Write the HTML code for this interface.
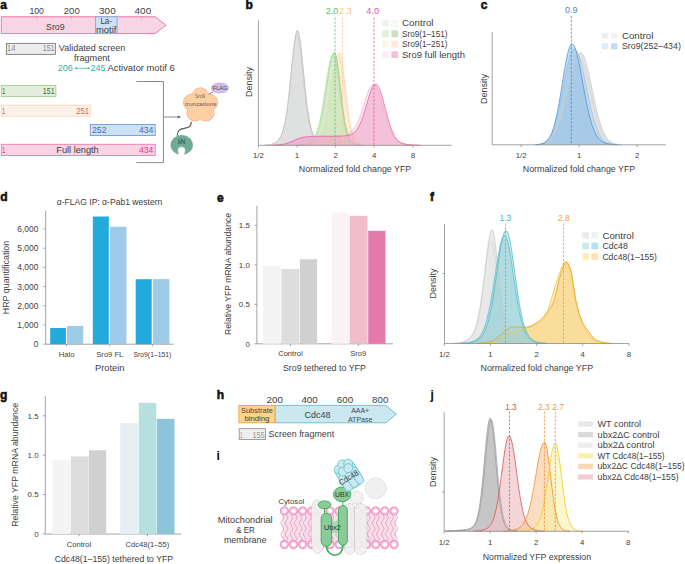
<!DOCTYPE html>
<html><head><meta charset="utf-8"><style>
html,body{margin:0;padding:0;background:#fff;}
body{width:685px;height:564px;overflow:hidden;}
svg{display:block;font-family:"Liberation Sans", sans-serif;}
</style></head><body>
<svg width="685" height="564" viewBox="0 0 685 564">
<rect width="685" height="564" fill="#fff"/>
<text x="0.20" y="8.90" font-size="12.0" fill="#111" font-weight="bold" stroke="#111" stroke-width="0.55">a</text>
<text x="36.70" y="14.20" font-size="9.2" fill="#404040" text-anchor="middle" textLength="14.6" lengthAdjust="spacingAndGlyphs" >100</text>
<text x="71.75" y="14.20" font-size="9.2" fill="#404040" text-anchor="middle" textLength="15.9" lengthAdjust="spacingAndGlyphs" >200</text>
<text x="107.40" y="14.20" font-size="9.2" fill="#404040" text-anchor="middle" textLength="16.6" lengthAdjust="spacingAndGlyphs" >300</text>
<text x="142.90" y="14.20" font-size="9.2" fill="#404040" text-anchor="middle" textLength="16.6" lengthAdjust="spacingAndGlyphs" >400</text>
<path d="M1.3,16.8 L155.2,16.8 L166.0,25.2 L155.2,33.6 L1.3,33.6 Z" fill="#f8d5e5" stroke="#ea6aa2" stroke-width="0.9" />
<rect x="95.40" y="16.80" width="21.70" height="16.80" fill="#cce1f6" stroke="#78ace3" stroke-width="0.9" />
<line x1="36.70" y1="16.80" x2="36.70" y2="18.80" stroke="#e07aa8" stroke-width="0.6" />
<line x1="71.70" y1="16.80" x2="71.70" y2="18.80" stroke="#e07aa8" stroke-width="0.6" />
<line x1="141.90" y1="16.80" x2="141.90" y2="18.80" stroke="#e07aa8" stroke-width="0.6" />
<line x1="107.40" y1="16.80" x2="107.40" y2="18.80" stroke="#7aa5d8" stroke-width="0.6" />
<text x="55.30" y="30.00" font-size="9.0" fill="#404040" text-anchor="middle" textLength="18.5" lengthAdjust="spacingAndGlyphs" >Sro9</text>
<text x="106.20" y="23.80" font-size="8.8" fill="#404040" text-anchor="middle" textLength="11.5" lengthAdjust="spacingAndGlyphs" >La-</text>
<text x="106.20" y="32.60" font-size="8.8" fill="#404040" text-anchor="middle" textLength="20.5" lengthAdjust="spacingAndGlyphs" >motif</text>
<rect x="6.40" y="43.40" width="49.00" height="11.00" fill="#ececec" stroke="#7c7c7c" stroke-width="0.9" />
<text x="7.00" y="51.40" font-size="8.9" fill="#8a8a8a" textLength="8.4" lengthAdjust="spacingAndGlyphs" >14</text>
<text x="54.50" y="51.40" font-size="8.9" fill="#8a8a8a" text-anchor="end" textLength="11.7" lengthAdjust="spacingAndGlyphs" >151</text>
<text x="58.80" y="51.30" font-size="8.9" fill="#404040" textLength="66.5" lengthAdjust="spacingAndGlyphs" >Validated screen</text>
<text x="91.90" y="60.80" font-size="8.9" fill="#404040" text-anchor="middle" textLength="36.0" lengthAdjust="spacingAndGlyphs" >fragment</text>
<text x="57.80" y="71.30" font-size="8.9" fill="#2bb0a8" textLength="15.0" lengthAdjust="spacingAndGlyphs" >206</text>
<line x1="76.00" y1="68.30" x2="89.00" y2="68.30" stroke="#2bb0a8" stroke-width="0.7" />
<circle cx="76.2" cy="68.3" r="1.0" fill="#2bb0a8"/><circle cx="88.6" cy="68.3" r="1.0" fill="#2bb0a8"/>
<text x="90.60" y="71.30" font-size="8.9" fill="#2bb0a8" textLength="15.0" lengthAdjust="spacingAndGlyphs" >245</text>
<text x="107.60" y="71.30" font-size="8.9" fill="#404040" textLength="67.0" lengthAdjust="spacingAndGlyphs" >Activator motif 6</text>
<rect x="1.30" y="85.40" width="54.60" height="11.00" fill="#e3efdc" stroke="#9dcd8b" stroke-width="0.9" />
<text x="2.00" y="94.30" font-size="9.2" fill="#3a6e3c" textLength="3.4" lengthAdjust="spacingAndGlyphs" >1</text>
<text x="54.60" y="94.30" font-size="9.2" fill="#3a6e3c" text-anchor="end" textLength="11.8" lengthAdjust="spacingAndGlyphs" >151</text>
<rect x="1.30" y="105.20" width="89.00" height="11.00" fill="#fdf2ea" stroke="#f9d5bb" stroke-width="0.9" />
<text x="2.00" y="114.10" font-size="9.2" fill="#d4605c" textLength="3.4" lengthAdjust="spacingAndGlyphs" >1</text>
<text x="89.00" y="114.10" font-size="9.2" fill="#d4605c" text-anchor="end" textLength="12.7" lengthAdjust="spacingAndGlyphs" >251</text>
<rect x="90.30" y="124.50" width="64.90" height="11.00" fill="#cde1f4" stroke="#6e9dd6" stroke-width="0.9" />
<text x="92.00" y="133.40" font-size="9.2" fill="#4a6ab8" textLength="14.5" lengthAdjust="spacingAndGlyphs" >252</text>
<text x="153.40" y="133.40" font-size="9.2" fill="#4a6ab8" text-anchor="end" textLength="14.5" lengthAdjust="spacingAndGlyphs" >434</text>
<rect x="1.30" y="144.30" width="153.90" height="11.20" fill="#f8d3e3" stroke="#ee7aac" stroke-width="0.9" />
<text x="2.00" y="153.30" font-size="9.2" fill="#e8388a" textLength="3.4" lengthAdjust="spacingAndGlyphs" >1</text>
<text x="77.50" y="153.30" font-size="8.9" fill="#404040" text-anchor="middle" textLength="42.5" lengthAdjust="spacingAndGlyphs" >Full length</text>
<text x="153.40" y="153.30" font-size="9.2" fill="#e8388a" text-anchor="end" textLength="14.5" lengthAdjust="spacingAndGlyphs" >434</text>
<path d="M136.3,81.5 L163.4,81.5 L163.4,162.6 L136.3,162.6" fill="none" stroke="#6d6d6d" stroke-width="0.8" />
<line x1="163.40" y1="117.00" x2="179.50" y2="117.00" stroke="#6d6d6d" stroke-width="0.8" />
<path d="M181.3,117 L177.6,115.4 L177.6,118.6 Z" fill="#6d6d6d" />
<path d="M208.8,94.2 C209.8,93.2 210.3,93.9 211.0,93.0 C211.7,92.2 212.2,92.8 213.2,91.8" fill="none" stroke="#555" stroke-width="0.9" />
<ellipse cx="219.9" cy="88.0" rx="8.7" ry="5.0" fill="#d3bce6" stroke="#bc9fd6" stroke-width="0.6"/>
<text x="220.00" y="90.20" font-size="6.2" fill="#444" text-anchor="middle" textLength="14.5" lengthAdjust="spacingAndGlyphs" >FLAG</text>
<circle cx="200.50" cy="95.90" r="8.1" fill="#fdd0a4" stroke="#f6a88c" stroke-width="0.9"/>
<circle cx="209.44" cy="102.40" r="8.1" fill="#fdd0a4" stroke="#f6a88c" stroke-width="0.9"/>
<circle cx="206.03" cy="112.90" r="8.1" fill="#fdd0a4" stroke="#f6a88c" stroke-width="0.9"/>
<circle cx="194.97" cy="112.90" r="8.1" fill="#fdd0a4" stroke="#f6a88c" stroke-width="0.9"/>
<circle cx="191.56" cy="102.40" r="8.1" fill="#fdd0a4" stroke="#f6a88c" stroke-width="0.9"/>
<circle cx="200.50" cy="95.90" r="7.65" fill="#fdd0a4"/>
<circle cx="209.44" cy="102.40" r="7.65" fill="#fdd0a4"/>
<circle cx="206.03" cy="112.90" r="7.65" fill="#fdd0a4"/>
<circle cx="194.97" cy="112.90" r="7.65" fill="#fdd0a4"/>
<circle cx="191.56" cy="102.40" r="7.65" fill="#fdd0a4"/>
<circle cx="200.5" cy="105.3" r="11.5" fill="#fdd0a4"/>
<text x="200.00" y="97.90" font-size="6.0" fill="#6b5a52" text-anchor="middle" textLength="10.0" lengthAdjust="spacingAndGlyphs" >Sro9</text>
<text x="200.80" y="105.50" font-size="6.0" fill="#6b5a52" text-anchor="middle" textLength="31.5" lengthAdjust="spacingAndGlyphs" >truncations</text>
<path d="M191.3,121.8 C191.2,124.5 191,126 188.5,127.3 C185,128.8 181.5,128 179.2,130.2 C177.6,131.8 177.2,133.5 177.2,135.8" fill="none" stroke="#555" stroke-width="1.1" />
<ellipse cx="181.7" cy="145.0" rx="10.9" ry="9.7" fill="#6dab95" stroke="#5f9e88" stroke-width="0.5"/>
<circle cx="181.5" cy="150.6" r="4.0" fill="#fff" stroke="#3f6f60" stroke-width="0.4"/>
<rect x="178.6" y="151.5" width="5.8" height="4" fill="#fff"/>
<text x="181.40" y="144.00" font-size="6.6" fill="#2d3d38" text-anchor="middle" textLength="7.5" lengthAdjust="spacingAndGlyphs" >λN</text>
<text x="245.40" y="8.90" font-size="12.0" fill="#111" font-weight="bold" stroke="#111" stroke-width="0.55">b</text>
<path d="M259.0,145.3 L259.0,145.3 L262.0,145.3 L263.0,145.2 L264.0,145.2 L265.0,145.2 L266.0,145.1 L267.0,145.0 L268.0,144.9 L269.0,144.8 L270.0,144.7 L271.0,144.4 L272.0,144.2 L273.0,143.8 L274.0,143.4 L275.0,142.9 L276.0,142.3 L277.0,141.5 L278.0,140.5 L279.0,139.3 L280.0,137.7 L281.0,135.9 L282.0,133.5 L283.0,130.6 L284.0,127.0 L285.0,122.5 L286.0,117.0 L287.0,110.5 L288.0,102.8 L289.0,94.1 L290.0,84.5 L291.0,74.4 L292.0,64.1 L293.0,54.3 L294.0,45.4 L295.0,38.2 L296.0,33.2 L297.0,30.7 L298.0,31.0 L299.0,34.0 L300.0,39.5 L301.0,47.1 L302.0,56.2 L303.0,66.1 L304.0,76.4 L305.0,86.5 L306.0,95.9 L307.0,104.4 L308.0,111.8 L309.0,118.2 L310.0,123.4 L311.0,127.8 L312.0,131.2 L313.0,134.0 L314.0,136.3 L315.0,138.1 L316.0,139.5 L317.0,140.7 L318.0,141.6 L319.0,142.4 L320.0,143.0 L321.0,143.5 L322.0,143.9 L323.0,144.2 L324.0,144.5 L325.0,144.7 L326.0,144.8 L327.0,145.0 L328.0,145.1 L329.0,145.1 L330.0,145.2 L331.0,145.2 L332.0,145.2 L333.0,145.3 L451.0,145.3 L451.0,145.3 Z" fill="#d4d5d6" fill-opacity="0.75"/>
<path d="M265.0,145.2 L266.0,145.1 L267.0,145.0 L268.0,144.9 L269.0,144.8 L270.0,144.7 L271.0,144.4 L272.0,144.2 L273.0,143.8 L274.0,143.4 L275.0,142.9 L276.0,142.3 L277.0,141.5 L278.0,140.5 L279.0,139.3 L280.0,137.7 L281.0,135.9 L282.0,133.5 L283.0,130.6 L284.0,127.0 L285.0,122.5 L286.0,117.0 L287.0,110.5 L288.0,102.8 L289.0,94.1 L290.0,84.5 L291.0,74.4 L292.0,64.1 L293.0,54.3 L294.0,45.4 L295.0,38.2 L296.0,33.2 L297.0,30.7 L298.0,31.0 L299.0,34.0 L300.0,39.5 L301.0,47.1 L302.0,56.2 L303.0,66.1 L304.0,76.4 L305.0,86.5 L306.0,95.9 L307.0,104.4 L308.0,111.8 L309.0,118.2 L310.0,123.4 L311.0,127.8 L312.0,131.2 L313.0,134.0 L314.0,136.3 L315.0,138.1 L316.0,139.5 L317.0,140.7 L318.0,141.6 L319.0,142.4 L320.0,143.0 L321.0,143.5 L322.0,143.9 L323.0,144.2 L324.0,144.5 L325.0,144.7 L326.0,144.8 L327.0,145.0 L328.0,145.1 L329.0,145.1 L330.0,145.2" fill="none" stroke="#a9a9a9" stroke-width="0.6" stroke-opacity="1.0"/>
<path d="M259.0,145.3 L259.0,145.3 L261.0,145.3 L262.0,145.2 L263.0,145.2 L264.0,145.2 L265.0,145.1 L266.0,145.1 L267.0,145.0 L268.0,144.9 L269.0,144.8 L270.0,144.6 L271.0,144.4 L272.0,144.1 L273.0,143.7 L274.0,143.3 L275.0,142.8 L276.0,142.1 L277.0,141.3 L278.0,140.3 L279.0,139.1 L280.0,137.6 L281.0,135.8 L282.0,133.5 L283.0,130.7 L284.0,127.1 L285.0,122.7 L286.0,117.3 L287.0,110.8 L288.0,103.3 L289.0,94.6 L290.0,85.1 L291.0,75.1 L292.0,65.1 L293.0,55.6 L294.0,47.3 L295.0,40.8 L296.0,36.7 L297.0,35.3 L298.0,36.7 L299.0,40.8 L300.0,47.3 L301.0,55.6 L302.0,65.1 L303.0,75.1 L304.0,85.1 L305.0,94.6 L306.0,103.3 L307.0,110.8 L308.0,117.3 L309.0,122.7 L310.0,127.1 L311.0,130.7 L312.0,133.5 L313.0,135.8 L314.0,137.6 L315.0,139.1 L316.0,140.3 L317.0,141.3 L318.0,142.1 L319.0,142.8 L320.0,143.3 L321.0,143.7 L322.0,144.1 L323.0,144.4 L324.0,144.6 L325.0,144.8 L326.0,144.9 L327.0,145.0 L328.0,145.1 L329.0,145.1 L330.0,145.2 L331.0,145.2 L332.0,145.2 L333.0,145.3 L451.0,145.3 L451.0,145.3 Z" fill="#e0e0e0" fill-opacity="0.35"/>
<path d="M264.0,145.2 L265.0,145.1 L266.0,145.1 L267.0,145.0 L268.0,144.9 L269.0,144.8 L270.0,144.6 L271.0,144.4 L272.0,144.1 L273.0,143.7 L274.0,143.3 L275.0,142.8 L276.0,142.1 L277.0,141.3 L278.0,140.3 L279.0,139.1 L280.0,137.6 L281.0,135.8 L282.0,133.5 L283.0,130.7 L284.0,127.1 L285.0,122.7 L286.0,117.3 L287.0,110.8 L288.0,103.3 L289.0,94.6 L290.0,85.1 L291.0,75.1 L292.0,65.1 L293.0,55.6 L294.0,47.3 L295.0,40.8 L296.0,36.7 L297.0,35.3 L298.0,36.7 L299.0,40.8 L300.0,47.3 L301.0,55.6 L302.0,65.1 L303.0,75.1 L304.0,85.1 L305.0,94.6 L306.0,103.3 L307.0,110.8 L308.0,117.3 L309.0,122.7 L310.0,127.1 L311.0,130.7 L312.0,133.5 L313.0,135.8 L314.0,137.6 L315.0,139.1 L316.0,140.3 L317.0,141.3 L318.0,142.1 L319.0,142.8 L320.0,143.3 L321.0,143.7 L322.0,144.1 L323.0,144.4 L324.0,144.6 L325.0,144.8 L326.0,144.9 L327.0,145.0 L328.0,145.1 L329.0,145.1 L330.0,145.2" fill="none" stroke="#c6c6c6" stroke-width="0.6" stroke-opacity="1.0"/>
<path d="M259.0,145.3 L259.0,145.3 L299.0,145.3 L300.0,145.2 L301.0,145.2 L302.0,145.2 L303.0,145.2 L304.0,145.1 L305.0,145.1 L306.0,145.0 L307.0,145.0 L308.0,144.9 L309.0,144.7 L310.0,144.6 L311.0,144.4 L312.0,144.2 L313.0,143.9 L314.0,143.5 L315.0,143.1 L316.0,142.5 L317.0,141.8 L318.0,141.0 L319.0,139.9 L320.0,138.5 L321.0,136.8 L322.0,134.8 L323.0,132.3 L324.0,129.2 L325.0,125.6 L326.0,121.4 L327.0,116.6 L328.0,111.1 L329.0,105.1 L330.0,98.6 L331.0,91.8 L332.0,84.9 L333.0,78.0 L334.0,71.5 L335.0,65.6 L336.0,60.6 L337.0,56.7 L338.0,54.1 L339.0,52.9 L340.0,53.4 L341.0,56.2 L342.0,61.1 L343.0,67.8 L344.0,75.7 L345.0,84.3 L346.0,93.1 L347.0,101.7 L348.0,109.6 L349.0,116.8 L350.0,122.9 L351.0,128.0 L352.0,132.2 L353.0,135.5 L354.0,138.0 L355.0,139.9 L356.0,141.4 L357.0,142.5 L358.0,143.2 L359.0,143.8 L360.0,144.2 L361.0,144.5 L362.0,144.8 L363.0,144.9 L364.0,145.0 L365.0,145.1 L366.0,145.2 L367.0,145.2 L368.0,145.2 L369.0,145.3 L451.0,145.3 L451.0,145.3 Z" fill="#fde2c3" fill-opacity="0.55"/>
<path d="M303.0,145.2 L304.0,145.1 L305.0,145.1 L306.0,145.0 L307.0,145.0 L308.0,144.9 L309.0,144.7 L310.0,144.6 L311.0,144.4 L312.0,144.2 L313.0,143.9 L314.0,143.5 L315.0,143.1 L316.0,142.5 L317.0,141.8 L318.0,141.0 L319.0,139.9 L320.0,138.5 L321.0,136.8 L322.0,134.8 L323.0,132.3 L324.0,129.2 L325.0,125.6 L326.0,121.4 L327.0,116.6 L328.0,111.1 L329.0,105.1 L330.0,98.6 L331.0,91.8 L332.0,84.9 L333.0,78.0 L334.0,71.5 L335.0,65.6 L336.0,60.6 L337.0,56.7 L338.0,54.1 L339.0,52.9 L340.0,53.4 L341.0,56.2 L342.0,61.1 L343.0,67.8 L344.0,75.7 L345.0,84.3 L346.0,93.1 L347.0,101.7 L348.0,109.6 L349.0,116.8 L350.0,122.9 L351.0,128.0 L352.0,132.2 L353.0,135.5 L354.0,138.0 L355.0,139.9 L356.0,141.4 L357.0,142.5 L358.0,143.2 L359.0,143.8 L360.0,144.2 L361.0,144.5 L362.0,144.8 L363.0,144.9 L364.0,145.0 L365.0,145.1 L366.0,145.2" fill="none" stroke="#f8cfa0" stroke-width="0.7" stroke-opacity="1.0"/>
<path d="M259.0,145.3 L259.0,145.3 L298.0,145.3 L299.0,145.2 L300.0,145.2 L301.0,145.2 L302.0,145.2 L303.0,145.1 L304.0,145.1 L305.0,145.0 L306.0,144.9 L307.0,144.8 L308.0,144.7 L309.0,144.6 L310.0,144.4 L311.0,144.1 L312.0,143.8 L313.0,143.5 L314.0,143.0 L315.0,142.4 L316.0,141.7 L317.0,140.8 L318.0,139.7 L319.0,138.3 L320.0,136.5 L321.0,134.4 L322.0,131.8 L323.0,128.7 L324.0,125.0 L325.0,120.7 L326.0,115.8 L327.0,110.4 L328.0,104.4 L329.0,97.9 L330.0,91.3 L331.0,84.5 L332.0,77.9 L333.0,71.7 L334.0,66.2 L335.0,61.6 L336.0,58.2 L337.0,56.0 L338.0,55.3 L339.0,56.4 L340.0,59.7 L341.0,64.9 L342.0,71.6 L343.0,79.4 L344.0,87.8 L345.0,96.2 L346.0,104.4 L347.0,111.9 L348.0,118.6 L349.0,124.3 L350.0,129.1 L351.0,133.0 L352.0,136.1 L353.0,138.5 L354.0,140.3 L355.0,141.7 L356.0,142.7 L357.0,143.4 L358.0,144.0 L359.0,144.3 L360.0,144.6 L361.0,144.8 L362.0,145.0 L363.0,145.1 L364.0,145.1 L365.0,145.2 L366.0,145.2 L367.0,145.2 L368.0,145.3 L451.0,145.3 L451.0,145.3 Z" fill="#fde8cf" fill-opacity="0.4"/>
<path d="M302.0,145.2 L303.0,145.1 L304.0,145.1 L305.0,145.0 L306.0,144.9 L307.0,144.8 L308.0,144.7 L309.0,144.6 L310.0,144.4 L311.0,144.1 L312.0,143.8 L313.0,143.5 L314.0,143.0 L315.0,142.4 L316.0,141.7 L317.0,140.8 L318.0,139.7 L319.0,138.3 L320.0,136.5 L321.0,134.4 L322.0,131.8 L323.0,128.7 L324.0,125.0 L325.0,120.7 L326.0,115.8 L327.0,110.4 L328.0,104.4 L329.0,97.9 L330.0,91.3 L331.0,84.5 L332.0,77.9 L333.0,71.7 L334.0,66.2 L335.0,61.6 L336.0,58.2 L337.0,56.0 L338.0,55.3 L339.0,56.4 L340.0,59.7 L341.0,64.9 L342.0,71.6 L343.0,79.4 L344.0,87.8 L345.0,96.2 L346.0,104.4 L347.0,111.9 L348.0,118.6 L349.0,124.3 L350.0,129.1 L351.0,133.0 L352.0,136.1 L353.0,138.5 L354.0,140.3 L355.0,141.7 L356.0,142.7 L357.0,143.4 L358.0,144.0 L359.0,144.3 L360.0,144.6 L361.0,144.8 L362.0,145.0 L363.0,145.1 L364.0,145.1 L365.0,145.2" fill="none" stroke="#fbdcbc" stroke-width="0.7" stroke-opacity="1.0"/>
<path d="M259.0,145.3 L259.0,145.3 L294.0,145.3 L295.0,145.2 L296.0,145.2 L297.0,145.2 L298.0,145.2 L299.0,145.1 L300.0,145.1 L301.0,145.0 L302.0,144.9 L303.0,144.8 L304.0,144.7 L305.0,144.6 L306.0,144.4 L307.0,144.2 L308.0,143.9 L309.0,143.5 L310.0,143.1 L311.0,142.5 L312.0,141.8 L313.0,141.0 L314.0,139.9 L315.0,138.6 L316.0,137.0 L317.0,135.0 L318.0,132.5 L319.0,129.5 L320.0,126.0 L321.0,121.8 L322.0,117.0 L323.0,111.6 L324.0,105.5 L325.0,99.0 L326.0,92.1 L327.0,85.1 L328.0,78.1 L329.0,71.5 L330.0,65.5 L331.0,60.3 L332.0,56.3 L333.0,53.6 L334.0,52.4 L335.0,52.9 L336.0,55.7 L337.0,60.6 L338.0,67.3 L339.0,75.2 L340.0,83.9 L341.0,92.7 L342.0,101.4 L343.0,109.4 L344.0,116.5 L345.0,122.7 L346.0,127.8 L347.0,132.0 L348.0,135.3 L349.0,137.9 L350.0,139.9 L351.0,141.3 L352.0,142.4 L353.0,143.2 L354.0,143.8 L355.0,144.2 L356.0,144.5 L357.0,144.7 L358.0,144.9 L359.0,145.0 L360.0,145.1 L361.0,145.2 L362.0,145.2 L363.0,145.2 L364.0,145.3 L451.0,145.3 L451.0,145.3 Z" fill="#b9dfa9" fill-opacity="0.5"/>
<path d="M298.0,145.2 L299.0,145.1 L300.0,145.1 L301.0,145.0 L302.0,144.9 L303.0,144.8 L304.0,144.7 L305.0,144.6 L306.0,144.4 L307.0,144.2 L308.0,143.9 L309.0,143.5 L310.0,143.1 L311.0,142.5 L312.0,141.8 L313.0,141.0 L314.0,139.9 L315.0,138.6 L316.0,137.0 L317.0,135.0 L318.0,132.5 L319.0,129.5 L320.0,126.0 L321.0,121.8 L322.0,117.0 L323.0,111.6 L324.0,105.5 L325.0,99.0 L326.0,92.1 L327.0,85.1 L328.0,78.1 L329.0,71.5 L330.0,65.5 L331.0,60.3 L332.0,56.3 L333.0,53.6 L334.0,52.4 L335.0,52.9 L336.0,55.7 L337.0,60.6 L338.0,67.3 L339.0,75.2 L340.0,83.9 L341.0,92.7 L342.0,101.4 L343.0,109.4 L344.0,116.5 L345.0,122.7 L346.0,127.8 L347.0,132.0 L348.0,135.3 L349.0,137.9 L350.0,139.9 L351.0,141.3 L352.0,142.4 L353.0,143.2 L354.0,143.8 L355.0,144.2 L356.0,144.5 L357.0,144.7 L358.0,144.9 L359.0,145.0 L360.0,145.1 L361.0,145.2" fill="none" stroke="#7fca70" stroke-width="0.7" stroke-opacity="1.0"/>
<path d="M259.0,145.3 L259.0,145.3 L293.0,145.3 L294.0,145.2 L295.0,145.2 L296.0,145.2 L297.0,145.2 L298.0,145.1 L299.0,145.1 L300.0,145.0 L301.0,144.9 L302.0,144.8 L303.0,144.7 L304.0,144.5 L305.0,144.3 L306.0,144.1 L307.0,143.8 L308.0,143.4 L309.0,142.9 L310.0,142.3 L311.0,141.5 L312.0,140.5 L313.0,139.3 L314.0,137.9 L315.0,136.1 L316.0,133.9 L317.0,131.2 L318.0,128.0 L319.0,124.3 L320.0,120.1 L321.0,115.2 L322.0,109.8 L323.0,103.9 L324.0,97.6 L325.0,91.1 L326.0,84.5 L327.0,78.1 L328.0,72.1 L329.0,66.7 L330.0,62.1 L331.0,58.6 L332.0,56.3 L333.0,55.3 L334.0,56.0 L335.0,58.7 L336.0,63.2 L337.0,69.3 L338.0,76.6 L339.0,84.6 L340.0,92.8 L341.0,100.9 L342.0,108.5 L343.0,115.4 L344.0,121.5 L345.0,126.7 L346.0,131.0 L347.0,134.4 L348.0,137.2 L349.0,139.3 L350.0,140.9 L351.0,142.1 L352.0,143.0 L353.0,143.7 L354.0,144.1 L355.0,144.5 L356.0,144.7 L357.0,144.9 L358.0,145.0 L359.0,145.1 L360.0,145.2 L361.0,145.2 L362.0,145.2 L363.0,145.3 L451.0,145.3 L451.0,145.3 Z" fill="#cde8c2" fill-opacity="0.4"/>
<path d="M297.0,145.2 L298.0,145.1 L299.0,145.1 L300.0,145.0 L301.0,144.9 L302.0,144.8 L303.0,144.7 L304.0,144.5 L305.0,144.3 L306.0,144.1 L307.0,143.8 L308.0,143.4 L309.0,142.9 L310.0,142.3 L311.0,141.5 L312.0,140.5 L313.0,139.3 L314.0,137.9 L315.0,136.1 L316.0,133.9 L317.0,131.2 L318.0,128.0 L319.0,124.3 L320.0,120.1 L321.0,115.2 L322.0,109.8 L323.0,103.9 L324.0,97.6 L325.0,91.1 L326.0,84.5 L327.0,78.1 L328.0,72.1 L329.0,66.7 L330.0,62.1 L331.0,58.6 L332.0,56.3 L333.0,55.3 L334.0,56.0 L335.0,58.7 L336.0,63.2 L337.0,69.3 L338.0,76.6 L339.0,84.6 L340.0,92.8 L341.0,100.9 L342.0,108.5 L343.0,115.4 L344.0,121.5 L345.0,126.7 L346.0,131.0 L347.0,134.4 L348.0,137.2 L349.0,139.3 L350.0,140.9 L351.0,142.1 L352.0,143.0 L353.0,143.7 L354.0,144.1 L355.0,144.5 L356.0,144.7 L357.0,144.9 L358.0,145.0 L359.0,145.1 L360.0,145.2" fill="none" stroke="#a2d995" stroke-width="0.7" stroke-opacity="1.0"/>
<path d="M259.0,145.3 L259.0,145.3 L266.0,145.3 L267.0,145.2 L268.0,145.2 L269.0,145.2 L270.0,145.2 L271.0,145.2 L272.0,145.2 L273.0,145.1 L274.0,145.1 L275.0,145.0 L276.0,145.0 L277.0,144.9 L278.0,144.8 L279.0,144.7 L280.0,144.6 L281.0,144.5 L282.0,144.3 L283.0,144.1 L284.0,143.9 L285.0,143.6 L286.0,143.3 L287.0,143.0 L288.0,142.6 L289.0,142.2 L290.0,141.8 L291.0,141.4 L292.0,140.9 L293.0,140.5 L294.0,140.0 L295.0,139.6 L296.0,139.2 L297.0,138.8 L298.0,138.4 L299.0,138.1 L300.0,137.8 L301.0,137.5 L302.0,137.3 L303.0,137.1 L304.0,136.9 L305.0,136.8 L306.0,136.7 L307.0,136.6 L308.0,136.5 L309.0,136.4 L310.0,136.4 L311.0,136.3 L312.0,136.3 L313.0,136.2 L314.0,136.2 L315.0,136.2 L316.0,136.2 L317.0,136.2 L318.0,136.2 L319.0,136.1 L320.0,136.1 L321.0,136.1 L322.0,136.1 L323.0,136.1 L324.0,136.1 L325.0,136.1 L326.0,136.1 L327.0,136.1 L328.0,136.1 L329.0,136.1 L330.0,136.1 L331.0,136.1 L332.0,136.0 L333.0,136.0 L334.0,136.0 L335.0,136.0 L336.0,136.0 L337.0,135.9 L338.0,135.9 L339.0,135.9 L340.0,135.8 L341.0,135.7 L342.0,135.6 L343.0,135.5 L344.0,135.3 L345.0,135.1 L346.0,134.9 L347.0,134.5 L348.0,134.1 L349.0,133.6 L350.0,133.0 L351.0,132.2 L352.0,131.3 L353.0,130.2 L354.0,128.9 L355.0,127.4 L356.0,125.7 L357.0,123.7 L358.0,121.5 L359.0,119.0 L360.0,116.3 L361.0,113.4 L362.0,110.3 L363.0,107.2 L364.0,103.9 L365.0,100.7 L366.0,97.6 L367.0,94.6 L368.0,91.9 L369.0,89.5 L370.0,87.5 L371.0,86.0 L372.0,85.0 L373.0,84.5 L374.0,84.6 L375.0,85.3 L376.0,86.6 L377.0,88.5 L378.0,90.8 L379.0,93.5 L380.0,96.6 L381.0,100.0 L382.0,103.6 L383.0,107.2 L384.0,110.9 L385.0,114.5 L386.0,118.0 L387.0,121.3 L388.0,124.4 L389.0,127.3 L390.0,129.9 L391.0,132.2 L392.0,134.2 L393.0,136.0 L394.0,137.6 L395.0,138.9 L396.0,140.0 L397.0,140.9 L398.0,141.7 L399.0,142.3 L400.0,142.8 L401.0,143.2 L402.0,143.6 L403.0,143.9 L404.0,144.1 L405.0,144.3 L406.0,144.4 L407.0,144.6 L408.0,144.7 L409.0,144.8 L410.0,144.8 L411.0,144.9 L412.0,145.0 L413.0,145.0 L414.0,145.1 L415.0,145.1 L416.0,145.1 L417.0,145.1 L418.0,145.2 L419.0,145.2 L420.0,145.2 L421.0,145.2 L422.0,145.2 L423.0,145.2 L424.0,145.3 L451.0,145.3 L451.0,145.3 Z" fill="#f6c2d9" fill-opacity="0.45"/>
<path d="M272.0,145.2 L273.0,145.1 L274.0,145.1 L275.0,145.0 L276.0,145.0 L277.0,144.9 L278.0,144.8 L279.0,144.7 L280.0,144.6 L281.0,144.5 L282.0,144.3 L283.0,144.1 L284.0,143.9 L285.0,143.6 L286.0,143.3 L287.0,143.0 L288.0,142.6 L289.0,142.2 L290.0,141.8 L291.0,141.4 L292.0,140.9 L293.0,140.5 L294.0,140.0 L295.0,139.6 L296.0,139.2 L297.0,138.8 L298.0,138.4 L299.0,138.1 L300.0,137.8 L301.0,137.5 L302.0,137.3 L303.0,137.1 L304.0,136.9 L305.0,136.8 L306.0,136.7 L307.0,136.6 L308.0,136.5 L309.0,136.4 L310.0,136.4 L311.0,136.3 L312.0,136.3 L313.0,136.2 L314.0,136.2 L315.0,136.2 L316.0,136.2 L317.0,136.2 L318.0,136.2 L319.0,136.1 L320.0,136.1 L321.0,136.1 L322.0,136.1 L323.0,136.1 L324.0,136.1 L325.0,136.1 L326.0,136.1 L327.0,136.1 L328.0,136.1 L329.0,136.1 L330.0,136.1 L331.0,136.1 L332.0,136.0 L333.0,136.0 L334.0,136.0 L335.0,136.0 L336.0,136.0 L337.0,135.9 L338.0,135.9 L339.0,135.9 L340.0,135.8 L341.0,135.7 L342.0,135.6 L343.0,135.5 L344.0,135.3 L345.0,135.1 L346.0,134.9 L347.0,134.5 L348.0,134.1 L349.0,133.6 L350.0,133.0 L351.0,132.2 L352.0,131.3 L353.0,130.2 L354.0,128.9 L355.0,127.4 L356.0,125.7 L357.0,123.7 L358.0,121.5 L359.0,119.0 L360.0,116.3 L361.0,113.4 L362.0,110.3 L363.0,107.2 L364.0,103.9 L365.0,100.7 L366.0,97.6 L367.0,94.6 L368.0,91.9 L369.0,89.5 L370.0,87.5 L371.0,86.0 L372.0,85.0 L373.0,84.5 L374.0,84.6 L375.0,85.3 L376.0,86.6 L377.0,88.5 L378.0,90.8 L379.0,93.5 L380.0,96.6 L381.0,100.0 L382.0,103.6 L383.0,107.2 L384.0,110.9 L385.0,114.5 L386.0,118.0 L387.0,121.3 L388.0,124.4 L389.0,127.3 L390.0,129.9 L391.0,132.2 L392.0,134.2 L393.0,136.0 L394.0,137.6 L395.0,138.9 L396.0,140.0 L397.0,140.9 L398.0,141.7 L399.0,142.3 L400.0,142.8 L401.0,143.2 L402.0,143.6 L403.0,143.9 L404.0,144.1 L405.0,144.3 L406.0,144.4 L407.0,144.6 L408.0,144.7 L409.0,144.8 L410.0,144.8 L411.0,144.9 L412.0,145.0 L413.0,145.0 L414.0,145.1 L415.0,145.1 L416.0,145.1 L417.0,145.1 L418.0,145.2" fill="none" stroke="#f6b3d1" stroke-width="0.7" stroke-opacity="1.0"/>
<path d="M259.0,145.3 L259.0,145.3 L267.0,145.3 L268.0,145.2 L269.0,145.2 L270.0,145.2 L271.0,145.2 L272.0,145.2 L273.0,145.2 L274.0,145.1 L275.0,145.1 L276.0,145.0 L277.0,145.0 L278.0,144.9 L279.0,144.8 L280.0,144.7 L281.0,144.6 L282.0,144.5 L283.0,144.3 L284.0,144.1 L285.0,143.9 L286.0,143.7 L287.0,143.4 L288.0,143.1 L289.0,142.7 L290.0,142.3 L291.0,141.9 L292.0,141.5 L293.0,141.0 L294.0,140.6 L295.0,140.1 L296.0,139.7 L297.0,139.3 L298.0,138.9 L299.0,138.5 L300.0,138.2 L301.0,137.9 L302.0,137.7 L303.0,137.5 L304.0,137.3 L305.0,137.1 L306.0,137.0 L307.0,136.9 L308.0,136.8 L309.0,136.7 L310.0,136.6 L311.0,136.6 L312.0,136.5 L313.0,136.5 L314.0,136.4 L315.0,136.4 L316.0,136.4 L317.0,136.4 L318.0,136.4 L319.0,136.4 L320.0,136.3 L321.0,136.3 L322.0,136.3 L323.0,136.3 L324.0,136.3 L325.0,136.3 L326.0,136.3 L327.0,136.3 L328.0,136.3 L329.0,136.3 L330.0,136.3 L331.0,136.3 L332.0,136.3 L333.0,136.3 L334.0,136.3 L335.0,136.2 L336.0,136.2 L337.0,136.2 L338.0,136.2 L339.0,136.2 L340.0,136.1 L341.0,136.1 L342.0,136.1 L343.0,136.0 L344.0,135.9 L345.0,135.9 L346.0,135.7 L347.0,135.6 L348.0,135.4 L349.0,135.2 L350.0,134.9 L351.0,134.6 L352.0,134.1 L353.0,133.5 L354.0,132.8 L355.0,132.0 L356.0,130.9 L357.0,129.6 L358.0,128.1 L359.0,126.4 L360.0,124.3 L361.0,122.0 L362.0,119.4 L363.0,116.6 L364.0,113.5 L365.0,110.2 L366.0,106.8 L367.0,103.3 L368.0,99.9 L369.0,96.6 L370.0,93.5 L371.0,90.6 L372.0,88.2 L373.0,86.3 L374.0,84.9 L375.0,84.2 L376.0,84.1 L377.0,84.6 L378.0,85.8 L379.0,87.6 L380.0,90.0 L381.0,92.8 L382.0,96.1 L383.0,99.6 L384.0,103.4 L385.0,107.3 L386.0,111.1 L387.0,114.9 L388.0,118.6 L389.0,122.0 L390.0,125.2 L391.0,128.1 L392.0,130.7 L393.0,133.0 L394.0,135.1 L395.0,136.8 L396.0,138.3 L397.0,139.5 L398.0,140.5 L399.0,141.4 L400.0,142.1 L401.0,142.6 L402.0,143.1 L403.0,143.5 L404.0,143.8 L405.0,144.0 L406.0,144.2 L407.0,144.4 L408.0,144.5 L409.0,144.6 L410.0,144.7 L411.0,144.8 L412.0,144.9 L413.0,144.9 L414.0,145.0 L415.0,145.0 L416.0,145.1 L417.0,145.1 L418.0,145.1 L419.0,145.1 L420.0,145.2 L421.0,145.2 L422.0,145.2 L423.0,145.2 L424.0,145.2 L425.0,145.2 L426.0,145.3 L451.0,145.3 L451.0,145.3 Z" fill="#ee95bf" fill-opacity="0.45"/>
<path d="M273.0,145.2 L274.0,145.1 L275.0,145.1 L276.0,145.0 L277.0,145.0 L278.0,144.9 L279.0,144.8 L280.0,144.7 L281.0,144.6 L282.0,144.5 L283.0,144.3 L284.0,144.1 L285.0,143.9 L286.0,143.7 L287.0,143.4 L288.0,143.1 L289.0,142.7 L290.0,142.3 L291.0,141.9 L292.0,141.5 L293.0,141.0 L294.0,140.6 L295.0,140.1 L296.0,139.7 L297.0,139.3 L298.0,138.9 L299.0,138.5 L300.0,138.2 L301.0,137.9 L302.0,137.7 L303.0,137.5 L304.0,137.3 L305.0,137.1 L306.0,137.0 L307.0,136.9 L308.0,136.8 L309.0,136.7 L310.0,136.6 L311.0,136.6 L312.0,136.5 L313.0,136.5 L314.0,136.4 L315.0,136.4 L316.0,136.4 L317.0,136.4 L318.0,136.4 L319.0,136.4 L320.0,136.3 L321.0,136.3 L322.0,136.3 L323.0,136.3 L324.0,136.3 L325.0,136.3 L326.0,136.3 L327.0,136.3 L328.0,136.3 L329.0,136.3 L330.0,136.3 L331.0,136.3 L332.0,136.3 L333.0,136.3 L334.0,136.3 L335.0,136.2 L336.0,136.2 L337.0,136.2 L338.0,136.2 L339.0,136.2 L340.0,136.1 L341.0,136.1 L342.0,136.1 L343.0,136.0 L344.0,135.9 L345.0,135.9 L346.0,135.7 L347.0,135.6 L348.0,135.4 L349.0,135.2 L350.0,134.9 L351.0,134.6 L352.0,134.1 L353.0,133.5 L354.0,132.8 L355.0,132.0 L356.0,130.9 L357.0,129.6 L358.0,128.1 L359.0,126.4 L360.0,124.3 L361.0,122.0 L362.0,119.4 L363.0,116.6 L364.0,113.5 L365.0,110.2 L366.0,106.8 L367.0,103.3 L368.0,99.9 L369.0,96.6 L370.0,93.5 L371.0,90.6 L372.0,88.2 L373.0,86.3 L374.0,84.9 L375.0,84.2 L376.0,84.1 L377.0,84.6 L378.0,85.8 L379.0,87.6 L380.0,90.0 L381.0,92.8 L382.0,96.1 L383.0,99.6 L384.0,103.4 L385.0,107.3 L386.0,111.1 L387.0,114.9 L388.0,118.6 L389.0,122.0 L390.0,125.2 L391.0,128.1 L392.0,130.7 L393.0,133.0 L394.0,135.1 L395.0,136.8 L396.0,138.3 L397.0,139.5 L398.0,140.5 L399.0,141.4 L400.0,142.1 L401.0,142.6 L402.0,143.1 L403.0,143.5 L404.0,143.8 L405.0,144.0 L406.0,144.2 L407.0,144.4 L408.0,144.5 L409.0,144.6 L410.0,144.7 L411.0,144.8 L412.0,144.9 L413.0,144.9 L414.0,145.0 L415.0,145.0 L416.0,145.1 L417.0,145.1 L418.0,145.1 L419.0,145.1 L420.0,145.2" fill="none" stroke="#e45c9c" stroke-width="0.7" stroke-opacity="1.0"/>
<line x1="258.40" y1="20.00" x2="258.40" y2="145.30" stroke="#8c8c8c" stroke-width="0.8" />
<line x1="258.40" y1="145.30" x2="451.70" y2="145.30" stroke="#8c8c8c" stroke-width="0.8" />
<line x1="258.40" y1="145.30" x2="258.40" y2="147.50" stroke="#8c8c8c" stroke-width="0.8" />
<text x="258.40" y="158.20" font-size="7.8" fill="#404040" text-anchor="middle" >1/2</text>
<line x1="297.00" y1="145.30" x2="297.00" y2="147.50" stroke="#8c8c8c" stroke-width="0.8" />
<text x="297.00" y="158.20" font-size="7.8" fill="#404040" text-anchor="middle" >1</text>
<line x1="335.60" y1="145.30" x2="335.60" y2="147.50" stroke="#8c8c8c" stroke-width="0.8" />
<text x="335.60" y="158.20" font-size="7.8" fill="#404040" text-anchor="middle" >2</text>
<line x1="374.20" y1="145.30" x2="374.20" y2="147.50" stroke="#8c8c8c" stroke-width="0.8" />
<text x="374.20" y="158.20" font-size="7.8" fill="#404040" text-anchor="middle" >4</text>
<line x1="412.80" y1="145.30" x2="412.80" y2="147.50" stroke="#8c8c8c" stroke-width="0.8" />
<text x="412.80" y="158.20" font-size="7.8" fill="#404040" text-anchor="middle" >8</text>
<text x="355.00" y="172.20" font-size="8.9" fill="#404040" text-anchor="middle" textLength="112.5" lengthAdjust="spacingAndGlyphs" >Normalized fold change YFP</text>
<text x="252.30" y="82.00" font-size="8.9" fill="#404040" text-anchor="middle" textLength="30" lengthAdjust="spacingAndGlyphs" transform="rotate(-90 252.30 82.00)" >Density</text>
<line x1="335.00" y1="17.50" x2="335.00" y2="145.30" stroke="#5fc46a" stroke-width="0.8" stroke-dasharray="2.4,1.5"/>
<line x1="342.60" y1="17.50" x2="342.60" y2="145.30" stroke="#f6c894" stroke-width="0.8" stroke-dasharray="2.4,1.5"/>
<line x1="373.90" y1="17.50" x2="373.90" y2="145.30" stroke="#e6609f" stroke-width="0.8" stroke-dasharray="2.4,1.5"/>
<text x="331.90" y="14.30" font-size="8.9" fill="#56bf63" text-anchor="middle" textLength="12.5" lengthAdjust="spacingAndGlyphs" >2.0</text>
<text x="345.50" y="14.30" font-size="8.9" fill="#f6c88a" text-anchor="middle" textLength="12.5" lengthAdjust="spacingAndGlyphs" >2.3</text>
<text x="372.80" y="14.30" font-size="8.9" fill="#e8559a" text-anchor="middle" textLength="13.0" lengthAdjust="spacingAndGlyphs" >4.0</text>
<rect x="382.10" y="19.90" width="6.70" height="6.80" fill="#f2f2f2" />
<rect x="391.40" y="19.90" width="6.70" height="6.80" fill="#f6f8f6" />
<text x="402.00" y="26.30" font-size="8.9" fill="#404040" textLength="31.5" lengthAdjust="spacingAndGlyphs" >Control</text>
<rect x="382.10" y="30.35" width="6.70" height="6.80" fill="#e3f0dc" />
<rect x="391.40" y="30.35" width="6.70" height="6.80" fill="#c8e4bd" />
<text x="402.00" y="36.75" font-size="8.9" fill="#404040" textLength="45.5" lengthAdjust="spacingAndGlyphs" >Sro9(1–151)</text>
<rect x="382.10" y="40.80" width="6.70" height="6.80" fill="#fff6ea" />
<rect x="391.40" y="40.80" width="6.70" height="6.80" fill="#feead6" />
<text x="402.00" y="47.20" font-size="8.9" fill="#404040" textLength="45.5" lengthAdjust="spacingAndGlyphs" >Sro9(1–251)</text>
<rect x="382.10" y="51.25" width="6.70" height="6.80" fill="#fdeef3" />
<rect x="391.40" y="51.25" width="6.70" height="6.80" fill="#f4c0d9" />
<text x="402.00" y="57.65" font-size="8.9" fill="#404040" textLength="63.0" lengthAdjust="spacingAndGlyphs" >Sro9 full length</text>
<text x="480.70" y="8.90" font-size="12.0" fill="#111" font-weight="bold" stroke="#111" stroke-width="0.55">c</text>
<path d="M493.0,144.8 L493.0,144.8 L534.0,144.8 L535.0,144.7 L536.0,144.7 L537.0,144.7 L538.0,144.6 L539.0,144.6 L540.0,144.5 L541.0,144.4 L542.0,144.3 L543.0,144.1 L544.0,143.9 L545.0,143.7 L546.0,143.4 L547.0,143.0 L548.0,142.5 L549.0,141.9 L550.0,141.2 L551.0,140.4 L552.0,139.4 L553.0,138.3 L554.0,136.9 L555.0,135.3 L556.0,133.5 L557.0,131.5 L558.0,129.2 L559.0,126.6 L560.0,123.7 L561.0,120.6 L562.0,117.1 L563.0,113.4 L564.0,109.5 L565.0,105.3 L566.0,100.9 L567.0,96.4 L568.0,91.8 L569.0,87.1 L570.0,82.5 L571.0,78.0 L572.0,73.6 L573.0,69.5 L574.0,65.7 L575.0,62.3 L576.0,59.3 L577.0,56.8 L578.0,54.9 L579.0,53.6 L580.0,52.9 L581.0,52.9 L582.0,53.5 L583.0,54.8 L584.0,56.7 L585.0,59.3 L586.0,62.4 L587.0,66.0 L588.0,70.0 L589.0,74.3 L590.0,78.9 L591.0,83.7 L592.0,88.5 L593.0,93.4 L594.0,98.1 L595.0,102.8 L596.0,107.3 L597.0,111.5 L598.0,115.5 L599.0,119.2 L600.0,122.6 L601.0,125.7 L602.0,128.5 L603.0,131.0 L604.0,133.2 L605.0,135.1 L606.0,136.8 L607.0,138.2 L608.0,139.4 L609.0,140.4 L610.0,141.3 L611.0,142.0 L612.0,142.6 L613.0,143.1 L614.0,143.4 L615.0,143.8 L616.0,144.0 L617.0,144.2 L618.0,144.3 L619.0,144.5 L620.0,144.5 L621.0,144.6 L622.0,144.7 L623.0,144.7 L624.0,144.7 L625.0,144.7 L626.0,144.8 L665.0,144.8 L665.9,144.8 Z" fill="#d9d9da" fill-opacity="0.75"/>
<path d="M493.0,144.8 L493.0,144.8 L532.0,144.8 L533.0,144.7 L534.0,144.7 L535.0,144.7 L536.0,144.7 L537.0,144.6 L538.0,144.5 L539.0,144.5 L540.0,144.4 L541.0,144.2 L542.0,144.0 L543.0,143.8 L544.0,143.6 L545.0,143.2 L546.0,142.8 L547.0,142.3 L548.0,141.7 L549.0,141.0 L550.0,140.1 L551.0,139.1 L552.0,137.9 L553.0,136.5 L554.0,134.9 L555.0,133.0 L556.0,130.9 L557.0,128.6 L558.0,126.0 L559.0,123.1 L560.0,120.0 L561.0,116.6 L562.0,112.9 L563.0,109.0 L564.0,105.0 L565.0,100.7 L566.0,96.4 L567.0,92.0 L568.0,87.6 L569.0,83.3 L570.0,79.1 L571.0,75.1 L572.0,71.4 L573.0,68.0 L574.0,65.0 L575.0,62.5 L576.0,60.5 L577.0,59.0 L578.0,58.1 L579.0,57.8 L580.0,58.1 L581.0,59.1 L582.0,60.7 L583.0,62.9 L584.0,65.6 L585.0,68.9 L586.0,72.5 L587.0,76.5 L588.0,80.7 L589.0,85.2 L590.0,89.7 L591.0,94.3 L592.0,98.9 L593.0,103.3 L594.0,107.6 L595.0,111.7 L596.0,115.6 L597.0,119.2 L598.0,122.6 L599.0,125.6 L600.0,128.4 L601.0,130.8 L602.0,133.0 L603.0,134.9 L604.0,136.6 L605.0,138.0 L606.0,139.3 L607.0,140.3 L608.0,141.2 L609.0,141.9 L610.0,142.5 L611.0,143.0 L612.0,143.4 L613.0,143.7 L614.0,144.0 L615.0,144.2 L616.0,144.3 L617.0,144.4 L618.0,144.5 L619.0,144.6 L620.0,144.6 L621.0,144.7 L622.0,144.7 L623.0,144.7 L624.0,144.8 L665.0,144.8 L665.9,144.8 Z" fill="#e4e4e4" fill-opacity="0.4"/>
<path d="M493.0,144.8 L493.0,144.8 L531.0,144.8 L532.0,144.7 L533.0,144.7 L534.0,144.7 L535.0,144.6 L536.0,144.6 L537.0,144.5 L538.0,144.4 L539.0,144.2 L540.0,144.1 L541.0,143.8 L542.0,143.5 L543.0,143.1 L544.0,142.6 L545.0,142.0 L546.0,141.3 L547.0,140.4 L548.0,139.3 L549.0,138.0 L550.0,136.5 L551.0,134.6 L552.0,132.5 L553.0,130.1 L554.0,127.3 L555.0,124.2 L556.0,120.8 L557.0,117.0 L558.0,112.8 L559.0,108.4 L560.0,103.6 L561.0,98.7 L562.0,93.5 L563.0,88.3 L564.0,83.0 L565.0,77.8 L566.0,72.7 L567.0,67.9 L568.0,63.5 L569.0,59.5 L570.0,56.0 L571.0,53.2 L572.0,51.1 L573.0,49.7 L574.0,49.0 L575.0,49.2 L576.0,50.0 L577.0,51.4 L578.0,53.4 L579.0,56.1 L580.0,59.2 L581.0,62.8 L582.0,66.8 L583.0,71.1 L584.0,75.7 L585.0,80.4 L586.0,85.2 L587.0,90.1 L588.0,94.9 L589.0,99.6 L590.0,104.1 L591.0,108.4 L592.0,112.5 L593.0,116.4 L594.0,119.9 L595.0,123.2 L596.0,126.1 L597.0,128.8 L598.0,131.2 L599.0,133.3 L600.0,135.1 L601.0,136.7 L602.0,138.1 L603.0,139.3 L604.0,140.3 L605.0,141.2 L606.0,141.9 L607.0,142.5 L608.0,142.9 L609.0,143.3 L610.0,143.7 L611.0,143.9 L612.0,144.1 L613.0,144.3 L614.0,144.4 L615.0,144.5 L616.0,144.6 L617.0,144.6 L618.0,144.7 L619.0,144.7 L620.0,144.7 L621.0,144.8 L665.0,144.8 L665.9,144.8 Z" fill="#aed1ee" fill-opacity="0.6"/>
<path d="M493.0,144.8 L493.0,144.8 L534.0,144.8 L535.0,144.7 L536.0,144.7 L537.0,144.6 L538.0,144.6 L539.0,144.5 L540.0,144.3 L541.0,144.2 L542.0,143.9 L543.0,143.6 L544.0,143.2 L545.0,142.6 L546.0,141.9 L547.0,141.1 L548.0,139.9 L549.0,138.6 L550.0,136.9 L551.0,134.9 L552.0,132.5 L553.0,129.7 L554.0,126.4 L555.0,122.7 L556.0,118.5 L557.0,113.9 L558.0,108.8 L559.0,103.3 L560.0,97.4 L561.0,91.4 L562.0,85.1 L563.0,78.9 L564.0,72.7 L565.0,66.9 L566.0,61.4 L567.0,56.5 L568.0,52.2 L569.0,48.8 L570.0,46.3 L571.0,44.7 L572.0,44.2 L573.0,44.5 L574.0,45.8 L575.0,47.8 L576.0,50.7 L577.0,54.2 L578.0,58.4 L579.0,63.0 L580.0,68.0 L581.0,73.3 L582.0,78.7 L583.0,84.3 L584.0,89.7 L585.0,95.1 L586.0,100.3 L587.0,105.2 L588.0,109.8 L589.0,114.1 L590.0,118.1 L591.0,121.7 L592.0,124.9 L593.0,127.8 L594.0,130.3 L595.0,132.5 L596.0,134.5 L597.0,136.2 L598.0,137.6 L599.0,138.8 L600.0,139.8 L601.0,140.7 L602.0,141.4 L603.0,142.1 L604.0,142.6 L605.0,143.0 L606.0,143.3 L607.0,143.6 L608.0,143.8 L609.0,144.0 L610.0,144.2 L611.0,144.3 L612.0,144.4 L613.0,144.5 L614.0,144.5 L615.0,144.6 L616.0,144.6 L617.0,144.7 L618.0,144.7 L619.0,144.7 L620.0,144.7 L621.0,144.8 L665.0,144.8 L665.9,144.8 Z" fill="#8fc0e6" fill-opacity="0.55"/>
<path d="M537.0,144.7 L538.0,144.6 L539.0,144.6 L540.0,144.5 L541.0,144.4 L542.0,144.3 L543.0,144.1 L544.0,143.9 L545.0,143.7 L546.0,143.4 L547.0,143.0 L548.0,142.5 L549.0,141.9 L550.0,141.2 L551.0,140.4 L552.0,139.4 L553.0,138.3 L554.0,136.9 L555.0,135.3 L556.0,133.5 L557.0,131.5 L558.0,129.2 L559.0,126.6 L560.0,123.7 L561.0,120.6 L562.0,117.1 L563.0,113.4 L564.0,109.5 L565.0,105.3 L566.0,100.9 L567.0,96.4 L568.0,91.8 L569.0,87.1 L570.0,82.5 L571.0,78.0 L572.0,73.6 L573.0,69.5 L574.0,65.7 L575.0,62.3 L576.0,59.3 L577.0,56.8 L578.0,54.9 L579.0,53.6 L580.0,52.9 L581.0,52.9 L582.0,53.5 L583.0,54.8 L584.0,56.7 L585.0,59.3 L586.0,62.4 L587.0,66.0 L588.0,70.0 L589.0,74.3 L590.0,78.9 L591.0,83.7 L592.0,88.5 L593.0,93.4 L594.0,98.1 L595.0,102.8 L596.0,107.3 L597.0,111.5 L598.0,115.5 L599.0,119.2 L600.0,122.6 L601.0,125.7 L602.0,128.5 L603.0,131.0 L604.0,133.2 L605.0,135.1 L606.0,136.8 L607.0,138.2 L608.0,139.4 L609.0,140.4 L610.0,141.3 L611.0,142.0 L612.0,142.6 L613.0,143.1 L614.0,143.4 L615.0,143.8 L616.0,144.0 L617.0,144.2 L618.0,144.3 L619.0,144.5 L620.0,144.5 L621.0,144.6 L622.0,144.7" fill="none" stroke="#c0c0c0" stroke-width="0.6" stroke-opacity="1.0"/>
<path d="M536.0,144.7 L537.0,144.6 L538.0,144.5 L539.0,144.5 L540.0,144.4 L541.0,144.2 L542.0,144.0 L543.0,143.8 L544.0,143.6 L545.0,143.2 L546.0,142.8 L547.0,142.3 L548.0,141.7 L549.0,141.0 L550.0,140.1 L551.0,139.1 L552.0,137.9 L553.0,136.5 L554.0,134.9 L555.0,133.0 L556.0,130.9 L557.0,128.6 L558.0,126.0 L559.0,123.1 L560.0,120.0 L561.0,116.6 L562.0,112.9 L563.0,109.0 L564.0,105.0 L565.0,100.7 L566.0,96.4 L567.0,92.0 L568.0,87.6 L569.0,83.3 L570.0,79.1 L571.0,75.1 L572.0,71.4 L573.0,68.0 L574.0,65.0 L575.0,62.5 L576.0,60.5 L577.0,59.0 L578.0,58.1 L579.0,57.8 L580.0,58.1 L581.0,59.1 L582.0,60.7 L583.0,62.9 L584.0,65.6 L585.0,68.9 L586.0,72.5 L587.0,76.5 L588.0,80.7 L589.0,85.2 L590.0,89.7 L591.0,94.3 L592.0,98.9 L593.0,103.3 L594.0,107.6 L595.0,111.7 L596.0,115.6 L597.0,119.2 L598.0,122.6 L599.0,125.6 L600.0,128.4 L601.0,130.8 L602.0,133.0 L603.0,134.9 L604.0,136.6 L605.0,138.0 L606.0,139.3 L607.0,140.3 L608.0,141.2 L609.0,141.9 L610.0,142.5 L611.0,143.0 L612.0,143.4 L613.0,143.7 L614.0,144.0 L615.0,144.2 L616.0,144.3 L617.0,144.4 L618.0,144.5 L619.0,144.6 L620.0,144.6 L621.0,144.7" fill="none" stroke="#cfcfcf" stroke-width="0.6" stroke-opacity="1.0"/>
<path d="M534.0,144.7 L535.0,144.6 L536.0,144.6 L537.0,144.5 L538.0,144.4 L539.0,144.2 L540.0,144.1 L541.0,143.8 L542.0,143.5 L543.0,143.1 L544.0,142.6 L545.0,142.0 L546.0,141.3 L547.0,140.4 L548.0,139.3 L549.0,138.0 L550.0,136.5 L551.0,134.6 L552.0,132.5 L553.0,130.1 L554.0,127.3 L555.0,124.2 L556.0,120.8 L557.0,117.0 L558.0,112.8 L559.0,108.4 L560.0,103.6 L561.0,98.7 L562.0,93.5 L563.0,88.3 L564.0,83.0 L565.0,77.8 L566.0,72.7 L567.0,67.9 L568.0,63.5 L569.0,59.5 L570.0,56.0 L571.0,53.2 L572.0,51.1 L573.0,49.7 L574.0,49.0 L575.0,49.2 L576.0,50.0 L577.0,51.4 L578.0,53.4 L579.0,56.1 L580.0,59.2 L581.0,62.8 L582.0,66.8 L583.0,71.1 L584.0,75.7 L585.0,80.4 L586.0,85.2 L587.0,90.1 L588.0,94.9 L589.0,99.6 L590.0,104.1 L591.0,108.4 L592.0,112.5 L593.0,116.4 L594.0,119.9 L595.0,123.2 L596.0,126.1 L597.0,128.8 L598.0,131.2 L599.0,133.3 L600.0,135.1 L601.0,136.7 L602.0,138.1 L603.0,139.3 L604.0,140.3 L605.0,141.2 L606.0,141.9 L607.0,142.5 L608.0,142.9 L609.0,143.3 L610.0,143.7 L611.0,143.9 L612.0,144.1 L613.0,144.3 L614.0,144.4 L615.0,144.5 L616.0,144.6 L617.0,144.6 L618.0,144.7" fill="none" stroke="#92c1e8" stroke-width="0.7" stroke-opacity="1.0"/>
<path d="M536.0,144.7 L537.0,144.6 L538.0,144.6 L539.0,144.5 L540.0,144.3 L541.0,144.2 L542.0,143.9 L543.0,143.6 L544.0,143.2 L545.0,142.6 L546.0,141.9 L547.0,141.1 L548.0,139.9 L549.0,138.6 L550.0,136.9 L551.0,134.9 L552.0,132.5 L553.0,129.7 L554.0,126.4 L555.0,122.7 L556.0,118.5 L557.0,113.9 L558.0,108.8 L559.0,103.3 L560.0,97.4 L561.0,91.4 L562.0,85.1 L563.0,78.9 L564.0,72.7 L565.0,66.9 L566.0,61.4 L567.0,56.5 L568.0,52.2 L569.0,48.8 L570.0,46.3 L571.0,44.7 L572.0,44.2 L573.0,44.5 L574.0,45.8 L575.0,47.8 L576.0,50.7 L577.0,54.2 L578.0,58.4 L579.0,63.0 L580.0,68.0 L581.0,73.3 L582.0,78.7 L583.0,84.3 L584.0,89.7 L585.0,95.1 L586.0,100.3 L587.0,105.2 L588.0,109.8 L589.0,114.1 L590.0,118.1 L591.0,121.7 L592.0,124.9 L593.0,127.8 L594.0,130.3 L595.0,132.5 L596.0,134.5 L597.0,136.2 L598.0,137.6 L599.0,138.8 L600.0,139.8 L601.0,140.7 L602.0,141.4 L603.0,142.1 L604.0,142.6 L605.0,143.0 L606.0,143.3 L607.0,143.6 L608.0,143.8 L609.0,144.0 L610.0,144.2 L611.0,144.3 L612.0,144.4 L613.0,144.5 L614.0,144.5 L615.0,144.6 L616.0,144.6 L617.0,144.7" fill="none" stroke="#4a8bd0" stroke-width="0.7" stroke-opacity="1.0"/>
<line x1="492.20" y1="31.90" x2="492.20" y2="144.80" stroke="#8c8c8c" stroke-width="0.8" />
<line x1="492.20" y1="144.80" x2="665.90" y2="144.80" stroke="#8c8c8c" stroke-width="0.8" />
<line x1="521.20" y1="144.80" x2="521.20" y2="147.00" stroke="#8c8c8c" stroke-width="0.8" />
<text x="521.20" y="157.50" font-size="7.8" fill="#404040" text-anchor="middle" >1/2</text>
<line x1="579.20" y1="144.80" x2="579.20" y2="147.00" stroke="#8c8c8c" stroke-width="0.8" />
<text x="579.20" y="157.50" font-size="7.8" fill="#404040" text-anchor="middle" >1</text>
<line x1="637.20" y1="144.80" x2="637.20" y2="147.00" stroke="#8c8c8c" stroke-width="0.8" />
<text x="637.20" y="157.50" font-size="7.8" fill="#404040" text-anchor="middle" >2</text>
<line x1="571.30" y1="16.00" x2="571.30" y2="144.80" stroke="#4a86cc" stroke-width="0.8" stroke-dasharray="2.4,1.5"/>
<text x="571.20" y="12.80" font-size="8.9" fill="#4a86cc" text-anchor="middle" textLength="12.5" lengthAdjust="spacingAndGlyphs" >0.9</text>
<text x="579.00" y="172.20" font-size="8.9" fill="#404040" text-anchor="middle" textLength="112.5" lengthAdjust="spacingAndGlyphs" >Normalized fold change YFP</text>
<text x="486.50" y="89.00" font-size="8.9" fill="#404040" text-anchor="middle" textLength="30" lengthAdjust="spacingAndGlyphs" transform="rotate(-90 486.50 89.00)" >Density</text>
<rect x="601.80" y="32.60" width="6.40" height="6.20" fill="#efefef" />
<rect x="611.00" y="32.60" width="6.40" height="6.20" fill="#f2f3f4" />
<text x="621.90" y="38.50" font-size="8.9" fill="#404040" textLength="31.5" lengthAdjust="spacingAndGlyphs" >Control</text>
<rect x="601.80" y="43.20" width="6.40" height="6.20" fill="#dcedf9" />
<rect x="611.00" y="43.20" width="6.40" height="6.20" fill="#c2dcf3" />
<text x="621.90" y="49.10" font-size="8.9" fill="#404040" textLength="59.0" lengthAdjust="spacingAndGlyphs" >Sro9(252–434)</text>
<text x="0.30" y="201.40" font-size="12.0" fill="#111" font-weight="bold" stroke="#111" stroke-width="0.55">d</text>
<text x="109.50" y="204.80" font-size="8.6" fill="#404040" text-anchor="middle" textLength="105.5" lengthAdjust="spacingAndGlyphs" >α-FLAG IP: α-Pab1 western</text>
<line x1="45.70" y1="210.70" x2="45.70" y2="344.20" stroke="#8c8c8c" stroke-width="0.8" />
<line x1="45.70" y1="344.20" x2="173.60" y2="344.20" stroke="#8c8c8c" stroke-width="0.8" />
<line x1="43.30" y1="344.20" x2="45.70" y2="344.20" stroke="#8c8c8c" stroke-width="0.8" />
<text x="38.30" y="347.20" font-size="8.4" fill="#404040" text-anchor="end" >0</text>
<line x1="43.30" y1="325.00" x2="45.70" y2="325.00" stroke="#8c8c8c" stroke-width="0.8" />
<text x="38.30" y="328.00" font-size="8.4" fill="#404040" text-anchor="end" >1,000</text>
<line x1="43.30" y1="305.80" x2="45.70" y2="305.80" stroke="#8c8c8c" stroke-width="0.8" />
<text x="38.30" y="308.80" font-size="8.4" fill="#404040" text-anchor="end" >2,000</text>
<line x1="43.30" y1="286.60" x2="45.70" y2="286.60" stroke="#8c8c8c" stroke-width="0.8" />
<text x="38.30" y="289.60" font-size="8.4" fill="#404040" text-anchor="end" >3,000</text>
<line x1="43.30" y1="267.40" x2="45.70" y2="267.40" stroke="#8c8c8c" stroke-width="0.8" />
<text x="38.30" y="270.40" font-size="8.4" fill="#404040" text-anchor="end" >4,000</text>
<line x1="43.30" y1="248.20" x2="45.70" y2="248.20" stroke="#8c8c8c" stroke-width="0.8" />
<text x="38.30" y="251.20" font-size="8.4" fill="#404040" text-anchor="end" >5,000</text>
<line x1="43.30" y1="229.00" x2="45.70" y2="229.00" stroke="#8c8c8c" stroke-width="0.8" />
<text x="38.30" y="232.00" font-size="8.4" fill="#404040" text-anchor="end" >6,000</text>
<rect x="50.20" y="328.00" width="15.70" height="16.20" fill="#22aadc" />
<rect x="67.00" y="326.00" width="16.30" height="18.20" fill="#9dcbe8" />
<rect x="92.80" y="216.52" width="16.00" height="127.68" fill="#22aadc" />
<rect x="109.80" y="226.79" width="16.70" height="117.41" fill="#9dcbe8" />
<rect x="135.70" y="279.21" width="16.00" height="64.99" fill="#22aadc" />
<rect x="153.00" y="279.11" width="16.40" height="65.09" fill="#9dcbe8" />
<line x1="66.60" y1="344.20" x2="66.60" y2="346.40" stroke="#8c8c8c" stroke-width="0.8" />
<text x="66.60" y="356.50" font-size="7.6" fill="#404040" text-anchor="middle" >Halo</text>
<line x1="109.80" y1="344.20" x2="109.80" y2="346.40" stroke="#8c8c8c" stroke-width="0.8" />
<text x="109.80" y="356.50" font-size="7.6" fill="#404040" text-anchor="middle" >Sro9 FL</text>
<line x1="152.40" y1="344.20" x2="152.40" y2="346.40" stroke="#8c8c8c" stroke-width="0.8" />
<text x="152.40" y="356.50" font-size="7.6" fill="#404040" text-anchor="middle" textLength="37.7" lengthAdjust="spacingAndGlyphs" >Sro9(1–151)</text>
<text x="109.80" y="371.40" font-size="8.9" fill="#404040" text-anchor="middle" textLength="29.5" lengthAdjust="spacingAndGlyphs" >Protein</text>
<text x="9.00" y="277.50" font-size="8.9" fill="#404040" text-anchor="middle" textLength="73.5" lengthAdjust="spacingAndGlyphs" transform="rotate(-90 9.00 277.50)" >HRP quantification</text>
<text x="217.00" y="201.80" font-size="12.0" fill="#111" font-weight="bold" stroke="#111" stroke-width="0.55">e</text>
<line x1="256.90" y1="205.70" x2="256.90" y2="343.80" stroke="#8c8c8c" stroke-width="0.8" />
<line x1="256.90" y1="343.80" x2="393.00" y2="343.80" stroke="#8c8c8c" stroke-width="0.8" />
<line x1="254.50" y1="343.80" x2="256.90" y2="343.80" stroke="#8c8c8c" stroke-width="0.8" />
<text x="249.80" y="346.60" font-size="7.9" fill="#404040" text-anchor="end" >0</text>
<line x1="254.50" y1="304.30" x2="256.90" y2="304.30" stroke="#8c8c8c" stroke-width="0.8" />
<text x="249.80" y="307.10" font-size="7.9" fill="#404040" text-anchor="end" >0.5</text>
<line x1="254.50" y1="264.80" x2="256.90" y2="264.80" stroke="#8c8c8c" stroke-width="0.8" />
<text x="249.80" y="267.60" font-size="7.9" fill="#404040" text-anchor="end" >1.0</text>
<line x1="254.50" y1="225.30" x2="256.90" y2="225.30" stroke="#8c8c8c" stroke-width="0.8" />
<text x="249.80" y="228.10" font-size="7.9" fill="#404040" text-anchor="end" >1.5</text>
<rect x="263.00" y="265.99" width="17.80" height="77.81" fill="#f3f5f4" />
<rect x="281.40" y="268.99" width="17.80" height="74.81" fill="#dcdddc" />
<rect x="299.80" y="259.27" width="17.30" height="84.53" fill="#cfd0cf" />
<rect x="331.30" y="212.66" width="17.70" height="131.14" fill="#faf2f4" />
<rect x="349.70" y="215.82" width="17.80" height="127.98" fill="#f2bccb" />
<rect x="368.20" y="230.83" width="17.30" height="112.97" fill="#e47aac" />
<line x1="290.40" y1="343.80" x2="290.40" y2="346.00" stroke="#8c8c8c" stroke-width="0.8" />
<text x="290.40" y="356.00" font-size="7.6" fill="#404040" text-anchor="middle" >Control</text>
<line x1="358.30" y1="343.80" x2="358.30" y2="346.00" stroke="#8c8c8c" stroke-width="0.8" />
<text x="358.30" y="356.00" font-size="7.6" fill="#404040" text-anchor="middle" >Sro9</text>
<text x="324.40" y="370.70" font-size="8.9" fill="#404040" text-anchor="middle" textLength="83.0" lengthAdjust="spacingAndGlyphs" >Sro9 tethered to YFP</text>
<text x="231.30" y="274.00" font-size="8.9" fill="#404040" text-anchor="middle" textLength="122" lengthAdjust="spacingAndGlyphs" transform="rotate(-90 231.30 274.00)" >Relative YFP mRNA abundance</text>
<text x="430.00" y="201.30" font-size="12.0" fill="#111" font-weight="bold" stroke="#111" stroke-width="0.55">f</text>
<path d="M445.0,343.5 L445.0,343.5 L450.0,343.5 L451.0,343.4 L452.0,343.4 L453.0,343.4 L454.0,343.4 L455.0,343.3 L456.0,343.3 L457.0,343.2 L458.0,343.1 L459.0,343.0 L460.0,342.8 L461.0,342.6 L462.0,342.4 L463.0,342.1 L464.0,341.8 L465.0,341.4 L466.0,340.9 L467.0,340.4 L468.0,339.7 L469.0,338.9 L470.0,338.0 L471.0,336.9 L472.0,335.6 L473.0,334.1 L474.0,332.3 L475.0,330.1 L476.0,327.4 L477.0,324.2 L478.0,320.4 L479.0,315.8 L480.0,310.4 L481.0,304.1 L482.0,297.0 L483.0,289.1 L484.0,280.5 L485.0,271.5 L486.0,262.5 L487.0,253.8 L488.0,245.8 L489.0,239.0 L490.0,233.9 L491.0,230.6 L492.0,229.5 L493.0,230.9 L494.0,234.8 L495.0,241.1 L496.0,249.2 L497.0,258.5 L498.0,268.5 L499.0,278.6 L500.0,288.3 L501.0,297.2 L502.0,305.2 L503.0,312.1 L504.0,317.9 L505.0,322.8 L506.0,326.7 L507.0,329.9 L508.0,332.5 L509.0,334.6 L510.0,336.3 L511.0,337.7 L512.0,338.8 L513.0,339.7 L514.0,340.5 L515.0,341.1 L516.0,341.6 L517.0,342.0 L518.0,342.4 L519.0,342.6 L520.0,342.8 L521.0,343.0 L522.0,343.1 L523.0,343.2 L524.0,343.3 L525.0,343.4 L526.0,343.4 L527.0,343.4 L528.0,343.4 L529.0,343.5 L628.0,343.5 L628.9,343.5 Z" fill="#e0e0e0" fill-opacity="0.7"/>
<path d="M445.0,343.5 L445.0,343.5 L449.0,343.5 L450.0,343.4 L451.0,343.4 L452.0,343.4 L453.0,343.4 L454.0,343.3 L455.0,343.3 L456.0,343.2 L457.0,343.1 L458.0,343.0 L459.0,342.9 L460.0,342.7 L461.0,342.5 L462.0,342.3 L463.0,342.0 L464.0,341.6 L465.0,341.2 L466.0,340.7 L467.0,340.0 L468.0,339.3 L469.0,338.5 L470.0,337.5 L471.0,336.2 L472.0,334.8 L473.0,333.1 L474.0,331.0 L475.0,328.4 L476.0,325.4 L477.0,321.8 L478.0,317.5 L479.0,312.5 L480.0,306.8 L481.0,300.4 L482.0,293.3 L483.0,285.7 L484.0,277.9 L485.0,270.0 L486.0,262.5 L487.0,255.7 L488.0,250.0 L489.0,245.6 L490.0,242.8 L491.0,241.9 L492.0,243.0 L493.0,246.4 L494.0,251.7 L495.0,258.5 L496.0,266.5 L497.0,275.1 L498.0,283.9 L499.0,292.4 L500.0,300.4 L501.0,307.6 L502.0,313.9 L503.0,319.3 L504.0,323.9 L505.0,327.7 L506.0,330.7 L507.0,333.2 L508.0,335.2 L509.0,336.8 L510.0,338.2 L511.0,339.2 L512.0,340.1 L513.0,340.8 L514.0,341.4 L515.0,341.8 L516.0,342.2 L517.0,342.5 L518.0,342.7 L519.0,342.9 L520.0,343.1 L521.0,343.2 L522.0,343.3 L523.0,343.3 L524.0,343.4 L525.0,343.4 L526.0,343.4 L527.0,343.5 L628.0,343.5 L628.9,343.5 Z" fill="#e8e8e8" fill-opacity="0.5"/>
<path d="M445.0,343.5 L445.0,343.5 L473.5,343.5 L474.2,343.4 L475.0,343.4 L475.8,343.4 L476.5,343.4 L477.2,343.3 L478.0,343.3 L478.8,343.3 L479.5,343.2 L480.2,343.2 L481.0,343.2 L481.8,343.1 L482.5,343.1 L483.2,343.0 L484.0,343.0 L484.8,342.9 L485.5,342.9 L486.2,342.8 L487.0,342.7 L487.8,342.6 L488.5,342.5 L489.2,342.4 L490.0,342.2 L490.8,342.1 L491.5,341.9 L492.2,341.7 L493.0,341.5 L493.8,341.3 L494.5,341.1 L495.2,340.9 L496.0,340.7 L496.8,340.4 L497.5,340.0 L498.2,339.6 L499.0,339.2 L499.8,338.8 L500.5,338.3 L501.2,337.9 L502.0,337.5 L502.8,337.1 L503.5,336.8 L504.2,336.4 L505.0,336.0 L505.8,335.7 L506.5,335.3 L507.2,335.0 L508.0,334.6 L508.8,334.3 L509.5,334.0 L510.2,333.6 L511.0,333.3 L511.8,333.0 L512.5,332.7 L513.2,332.4 L514.0,332.2 L514.8,331.9 L515.5,331.7 L516.2,331.4 L517.0,331.2 L517.8,330.9 L518.5,330.7 L519.2,330.5 L520.0,330.2 L520.8,330.0 L521.5,329.7 L522.2,329.5 L523.0,329.2 L523.8,329.0 L524.5,328.7 L525.2,328.4 L526.0,328.1 L526.8,327.8 L527.5,327.5 L528.2,327.2 L529.0,326.9 L529.8,326.6 L530.5,326.3 L531.2,326.0 L532.0,325.7 L532.8,325.3 L533.5,325.0 L534.2,324.6 L535.0,324.2 L535.8,323.8 L536.5,323.4 L537.2,323.0 L538.0,322.5 L538.8,322.0 L539.5,321.6 L540.2,321.1 L541.0,320.6 L541.8,320.0 L542.5,319.4 L543.2,318.7 L544.0,318.0 L544.8,317.1 L545.5,316.2 L546.2,315.1 L547.0,313.5 L547.8,311.3 L548.5,308.8 L549.2,306.2 L550.0,303.7 L550.8,301.3 L551.5,298.8 L552.2,296.3 L553.0,293.7 L553.8,291.0 L554.5,288.4 L555.2,285.9 L556.0,283.4 L556.8,281.0 L557.5,278.9 L558.2,276.8 L559.0,274.7 L559.8,272.5 L560.5,270.3 L561.2,268.2 L562.0,266.2 L562.8,264.5 L563.5,263.1 L564.2,262.1 L565.0,261.5 L565.8,261.6 L566.5,262.1 L567.2,263.0 L568.0,264.3 L568.8,265.7 L569.5,267.4 L570.2,269.2 L571.0,272.1 L571.8,276.1 L572.5,280.9 L573.2,286.0 L574.0,291.3 L574.8,296.2 L575.5,300.4 L576.2,303.7 L577.0,306.6 L577.8,309.2 L578.5,311.7 L579.2,314.1 L580.0,316.3 L580.8,318.3 L581.5,320.3 L582.2,322.1 L583.0,323.9 L583.8,325.7 L584.5,327.3 L585.2,328.9 L586.0,330.4 L586.8,331.7 L587.5,332.8 L588.2,333.8 L589.0,334.7 L589.8,335.6 L590.5,336.4 L591.2,337.1 L592.0,337.8 L592.8,338.5 L593.5,339.1 L594.2,339.6 L595.0,340.0 L595.8,340.4 L596.5,340.7 L597.2,341.0 L598.0,341.2 L598.8,341.5 L599.5,341.7 L600.2,341.9 L601.0,342.1 L601.8,342.3 L602.5,342.5 L603.2,342.6 L604.0,342.8 L604.8,342.9 L605.5,343.0 L606.2,343.0 L607.0,343.1 L607.8,343.2 L608.5,343.2 L609.2,343.3 L610.0,343.3 L610.8,343.4 L611.5,343.4 L612.2,343.4 L613.0,343.5 L628.8,343.5 L628.9,343.5 Z" fill="#fbda86" fill-opacity="0.55"/>
<path d="M445.0,343.5 L445.0,343.5 L472.8,343.5 L473.5,343.4 L474.2,343.4 L475.0,343.4 L475.8,343.3 L476.5,343.3 L477.2,343.2 L478.0,343.2 L478.8,343.1 L479.5,343.1 L480.2,343.0 L481.0,343.0 L481.8,342.9 L482.5,342.9 L483.2,342.8 L484.0,342.7 L484.8,342.6 L485.5,342.5 L486.2,342.4 L487.0,342.2 L487.8,342.1 L488.5,341.9 L489.2,341.7 L490.0,341.6 L490.8,341.4 L491.5,341.1 L492.2,340.9 L493.0,340.6 L493.8,340.2 L494.5,339.8 L495.2,339.3 L496.0,338.7 L496.8,338.1 L497.5,337.5 L498.2,336.9 L499.0,336.3 L499.8,335.7 L500.5,335.1 L501.2,334.5 L502.0,333.8 L502.8,333.1 L503.5,332.4 L504.2,331.7 L505.0,331.0 L505.8,330.4 L506.5,329.8 L507.2,329.3 L508.0,328.9 L508.8,328.4 L509.5,327.9 L510.2,327.5 L511.0,327.1 L511.8,326.9 L512.5,326.9 L513.2,326.9 L514.0,326.9 L514.8,326.9 L515.5,326.9 L516.2,327.0 L517.0,327.0 L517.8,327.0 L518.5,327.0 L519.2,327.0 L520.0,327.0 L520.8,327.0 L521.5,327.0 L522.2,327.0 L523.0,327.0 L523.8,327.0 L524.5,327.0 L525.2,327.0 L526.0,327.0 L526.8,327.0 L527.5,327.0 L528.2,326.9 L529.0,326.8 L529.8,326.5 L530.5,326.3 L531.2,326.0 L532.0,325.6 L532.8,325.2 L533.5,324.8 L534.2,324.3 L535.0,323.8 L535.8,323.3 L536.5,322.8 L537.2,322.3 L538.0,321.8 L538.8,321.2 L539.5,320.7 L540.2,320.0 L541.0,319.3 L541.8,318.6 L542.5,317.7 L543.2,316.9 L544.0,316.0 L544.8,315.1 L545.5,314.1 L546.2,313.2 L547.0,312.3 L547.8,311.4 L548.5,310.4 L549.2,309.4 L550.0,308.4 L550.8,307.3 L551.5,306.1 L552.2,304.8 L553.0,303.3 L553.8,301.6 L554.5,299.4 L555.2,296.7 L556.0,293.7 L556.8,290.4 L557.5,287.1 L558.2,283.7 L559.0,280.5 L559.8,277.5 L560.5,275.0 L561.2,272.8 L562.0,270.7 L562.8,268.6 L563.5,266.5 L564.2,264.7 L565.0,263.2 L565.8,262.3 L566.5,261.9 L567.2,262.3 L568.0,263.4 L568.8,265.0 L569.5,267.0 L570.2,269.2 L571.0,271.5 L571.8,274.5 L572.5,278.5 L573.2,283.3 L574.0,288.4 L574.8,293.4 L575.5,298.1 L576.2,302.0 L577.0,305.2 L577.8,308.2 L578.5,311.1 L579.2,313.8 L580.0,316.2 L580.8,318.5 L581.5,320.4 L582.2,322.0 L583.0,323.4 L583.8,324.7 L584.5,325.9 L585.2,326.9 L586.0,327.9 L586.8,328.9 L587.5,329.9 L588.2,330.9 L589.0,331.9 L589.8,333.0 L590.5,334.1 L591.2,335.1 L592.0,336.1 L592.8,337.1 L593.5,338.0 L594.2,338.7 L595.0,339.4 L595.8,339.9 L596.5,340.2 L597.2,340.6 L598.0,340.9 L598.8,341.2 L599.5,341.4 L600.2,341.7 L601.0,341.9 L601.8,342.1 L602.5,342.3 L603.2,342.5 L604.0,342.6 L604.8,342.7 L605.5,342.8 L606.2,342.9 L607.0,343.0 L607.8,343.1 L608.5,343.1 L609.2,343.2 L610.0,343.3 L610.8,343.3 L611.5,343.4 L612.2,343.4 L613.0,343.4 L613.8,343.5 L628.8,343.5 L628.9,343.5 Z" fill="#f8cf78" fill-opacity="0.5"/>
<path d="M445.0,343.5 L445.0,343.5 L457.0,343.5 L458.0,343.4 L459.0,343.4 L460.0,343.4 L461.0,343.4 L462.0,343.4 L463.0,343.3 L464.0,343.3 L465.0,343.2 L466.0,343.1 L467.0,343.1 L468.0,342.9 L469.0,342.8 L470.0,342.7 L471.0,342.5 L472.0,342.2 L473.0,342.0 L474.0,341.7 L475.0,341.3 L476.0,340.9 L477.0,340.3 L478.0,339.7 L479.0,339.0 L480.0,338.1 L481.0,337.1 L482.0,335.8 L483.0,334.4 L484.0,332.6 L485.0,330.6 L486.0,328.2 L487.0,325.4 L488.0,322.2 L489.0,318.5 L490.0,314.3 L491.0,309.5 L492.0,304.2 L493.0,298.5 L494.0,292.2 L495.0,285.6 L496.0,278.7 L497.0,271.7 L498.0,264.7 L499.0,257.8 L500.0,251.4 L501.0,245.5 L502.0,240.4 L503.0,236.2 L504.0,233.1 L505.0,231.1 L506.0,230.5 L507.0,231.2 L508.0,233.3 L509.0,236.6 L510.0,241.2 L511.0,246.7 L512.0,253.0 L513.0,259.8 L514.0,267.1 L515.0,274.5 L516.0,281.8 L517.0,288.9 L518.0,295.7 L519.0,302.0 L520.0,307.8 L521.0,313.0 L522.0,317.6 L523.0,321.7 L524.0,325.2 L525.0,328.3 L526.0,330.8 L527.0,333.0 L528.0,334.8 L529.0,336.4 L530.0,337.6 L531.0,338.7 L532.0,339.5 L533.0,340.3 L534.0,340.9 L535.0,341.3 L536.0,341.7 L537.0,342.1 L538.0,342.4 L539.0,342.6 L540.0,342.8 L541.0,342.9 L542.0,343.0 L543.0,343.1 L544.0,343.2 L545.0,343.3 L546.0,343.3 L547.0,343.4 L548.0,343.4 L549.0,343.4 L550.0,343.4 L551.0,343.5 L628.0,343.5 L628.9,343.5 Z" fill="#a5d8df" fill-opacity="0.55"/>
<path d="M445.0,343.5 L445.0,343.5 L456.0,343.5 L457.0,343.4 L458.0,343.4 L459.0,343.4 L460.0,343.4 L461.0,343.3 L462.0,343.3 L463.0,343.2 L464.0,343.2 L465.0,343.1 L466.0,343.0 L467.0,342.9 L468.0,342.7 L469.0,342.6 L470.0,342.3 L471.0,342.1 L472.0,341.8 L473.0,341.4 L474.0,341.0 L475.0,340.5 L476.0,339.9 L477.0,339.1 L478.0,338.2 L479.0,337.2 L480.0,336.0 L481.0,334.5 L482.0,332.8 L483.0,330.8 L484.0,328.4 L485.0,325.7 L486.0,322.6 L487.0,319.1 L488.0,315.0 L489.0,310.6 L490.0,305.6 L491.0,300.3 L492.0,294.5 L493.0,288.4 L494.0,282.1 L495.0,275.6 L496.0,269.1 L497.0,262.8 L498.0,256.8 L499.0,251.3 L500.0,246.3 L501.0,242.2 L502.0,239.0 L503.0,236.8 L504.0,235.6 L505.0,235.7 L506.0,236.9 L507.0,239.4 L508.0,243.0 L509.0,247.6 L510.0,253.1 L511.0,259.2 L512.0,265.8 L513.0,272.6 L514.0,279.5 L515.0,286.3 L516.0,292.9 L517.0,299.1 L518.0,304.9 L519.0,310.3 L520.0,315.1 L521.0,319.4 L522.0,323.1 L523.0,326.4 L524.0,329.2 L525.0,331.6 L526.0,333.7 L527.0,335.4 L528.0,336.8 L529.0,338.0 L530.0,339.0 L531.0,339.8 L532.0,340.5 L533.0,341.1 L534.0,341.5 L535.0,341.9 L536.0,342.2 L537.0,342.5 L538.0,342.7 L539.0,342.8 L540.0,343.0 L541.0,343.1 L542.0,343.2 L543.0,343.2 L544.0,343.3 L545.0,343.3 L546.0,343.4 L547.0,343.4 L548.0,343.4 L549.0,343.4 L550.0,343.5 L628.0,343.5 L628.9,343.5 Z" fill="#8fcbd5" fill-opacity="0.5"/>
<path d="M454.0,343.4 L455.0,343.3 L456.0,343.3 L457.0,343.2 L458.0,343.1 L459.0,343.0 L460.0,342.8 L461.0,342.6 L462.0,342.4 L463.0,342.1 L464.0,341.8 L465.0,341.4 L466.0,340.9 L467.0,340.4 L468.0,339.7 L469.0,338.9 L470.0,338.0 L471.0,336.9 L472.0,335.6 L473.0,334.1 L474.0,332.3 L475.0,330.1 L476.0,327.4 L477.0,324.2 L478.0,320.4 L479.0,315.8 L480.0,310.4 L481.0,304.1 L482.0,297.0 L483.0,289.1 L484.0,280.5 L485.0,271.5 L486.0,262.5 L487.0,253.8 L488.0,245.8 L489.0,239.0 L490.0,233.9 L491.0,230.6 L492.0,229.5 L493.0,230.9 L494.0,234.8 L495.0,241.1 L496.0,249.2 L497.0,258.5 L498.0,268.5 L499.0,278.6 L500.0,288.3 L501.0,297.2 L502.0,305.2 L503.0,312.1 L504.0,317.9 L505.0,322.8 L506.0,326.7 L507.0,329.9 L508.0,332.5 L509.0,334.6 L510.0,336.3 L511.0,337.7 L512.0,338.8 L513.0,339.7 L514.0,340.5 L515.0,341.1 L516.0,341.6 L517.0,342.0 L518.0,342.4 L519.0,342.6 L520.0,342.8 L521.0,343.0 L522.0,343.1 L523.0,343.2 L524.0,343.3 L525.0,343.4" fill="none" stroke="#c3c3c3" stroke-width="0.6" stroke-opacity="1.0"/>
<path d="M453.0,343.4 L454.0,343.3 L455.0,343.3 L456.0,343.2 L457.0,343.1 L458.0,343.0 L459.0,342.9 L460.0,342.7 L461.0,342.5 L462.0,342.3 L463.0,342.0 L464.0,341.6 L465.0,341.2 L466.0,340.7 L467.0,340.0 L468.0,339.3 L469.0,338.5 L470.0,337.5 L471.0,336.2 L472.0,334.8 L473.0,333.1 L474.0,331.0 L475.0,328.4 L476.0,325.4 L477.0,321.8 L478.0,317.5 L479.0,312.5 L480.0,306.8 L481.0,300.4 L482.0,293.3 L483.0,285.7 L484.0,277.9 L485.0,270.0 L486.0,262.5 L487.0,255.7 L488.0,250.0 L489.0,245.6 L490.0,242.8 L491.0,241.9 L492.0,243.0 L493.0,246.4 L494.0,251.7 L495.0,258.5 L496.0,266.5 L497.0,275.1 L498.0,283.9 L499.0,292.4 L500.0,300.4 L501.0,307.6 L502.0,313.9 L503.0,319.3 L504.0,323.9 L505.0,327.7 L506.0,330.7 L507.0,333.2 L508.0,335.2 L509.0,336.8 L510.0,338.2 L511.0,339.2 L512.0,340.1 L513.0,340.8 L514.0,341.4 L515.0,341.8 L516.0,342.2 L517.0,342.5 L518.0,342.7 L519.0,342.9 L520.0,343.1 L521.0,343.2 L522.0,343.3 L523.0,343.3 L524.0,343.4" fill="none" stroke="#cdcdcd" stroke-width="0.6" stroke-opacity="1.0"/>
<path d="M476.5,343.4 L477.2,343.3 L478.0,343.3 L478.8,343.3 L479.5,343.2 L480.2,343.2 L481.0,343.2 L481.8,343.1 L482.5,343.1 L483.2,343.0 L484.0,343.0 L484.8,342.9 L485.5,342.9 L486.2,342.8 L487.0,342.7 L487.8,342.6 L488.5,342.5 L489.2,342.4 L490.0,342.2 L490.8,342.1 L491.5,341.9 L492.2,341.7 L493.0,341.5 L493.8,341.3 L494.5,341.1 L495.2,340.9 L496.0,340.7 L496.8,340.4 L497.5,340.0 L498.2,339.6 L499.0,339.2 L499.8,338.8 L500.5,338.3 L501.2,337.9 L502.0,337.5 L502.8,337.1 L503.5,336.8 L504.2,336.4 L505.0,336.0 L505.8,335.7 L506.5,335.3 L507.2,335.0 L508.0,334.6 L508.8,334.3 L509.5,334.0 L510.2,333.6 L511.0,333.3 L511.8,333.0 L512.5,332.7 L513.2,332.4 L514.0,332.2 L514.8,331.9 L515.5,331.7 L516.2,331.4 L517.0,331.2 L517.8,330.9 L518.5,330.7 L519.2,330.5 L520.0,330.2 L520.8,330.0 L521.5,329.7 L522.2,329.5 L523.0,329.2 L523.8,329.0 L524.5,328.7 L525.2,328.4 L526.0,328.1 L526.8,327.8 L527.5,327.5 L528.2,327.2 L529.0,326.9 L529.8,326.6 L530.5,326.3 L531.2,326.0 L532.0,325.7 L532.8,325.3 L533.5,325.0 L534.2,324.6 L535.0,324.2 L535.8,323.8 L536.5,323.4 L537.2,323.0 L538.0,322.5 L538.8,322.0 L539.5,321.6 L540.2,321.1 L541.0,320.6 L541.8,320.0 L542.5,319.4 L543.2,318.7 L544.0,318.0 L544.8,317.1 L545.5,316.2 L546.2,315.1 L547.0,313.5 L547.8,311.3 L548.5,308.8 L549.2,306.2 L550.0,303.7 L550.8,301.3 L551.5,298.8 L552.2,296.3 L553.0,293.7 L553.8,291.0 L554.5,288.4 L555.2,285.9 L556.0,283.4 L556.8,281.0 L557.5,278.9 L558.2,276.8 L559.0,274.7 L559.8,272.5 L560.5,270.3 L561.2,268.2 L562.0,266.2 L562.8,264.5 L563.5,263.1 L564.2,262.1 L565.0,261.5 L565.8,261.6 L566.5,262.1 L567.2,263.0 L568.0,264.3 L568.8,265.7 L569.5,267.4 L570.2,269.2 L571.0,272.1 L571.8,276.1 L572.5,280.9 L573.2,286.0 L574.0,291.3 L574.8,296.2 L575.5,300.4 L576.2,303.7 L577.0,306.6 L577.8,309.2 L578.5,311.7 L579.2,314.1 L580.0,316.3 L580.8,318.3 L581.5,320.3 L582.2,322.1 L583.0,323.9 L583.8,325.7 L584.5,327.3 L585.2,328.9 L586.0,330.4 L586.8,331.7 L587.5,332.8 L588.2,333.8 L589.0,334.7 L589.8,335.6 L590.5,336.4 L591.2,337.1 L592.0,337.8 L592.8,338.5 L593.5,339.1 L594.2,339.6 L595.0,340.0 L595.8,340.4 L596.5,340.7 L597.2,341.0 L598.0,341.2 L598.8,341.5 L599.5,341.7 L600.2,341.9 L601.0,342.1 L601.8,342.3 L602.5,342.5 L603.2,342.6 L604.0,342.8 L604.8,342.9 L605.5,343.0 L606.2,343.0 L607.0,343.1 L607.8,343.2 L608.5,343.2 L609.2,343.3 L610.0,343.3 L610.8,343.4" fill="none" stroke="#f6c52c" stroke-width="0.8" stroke-opacity="1.0"/>
<path d="M475.0,343.4 L475.8,343.3 L476.5,343.3 L477.2,343.2 L478.0,343.2 L478.8,343.1 L479.5,343.1 L480.2,343.0 L481.0,343.0 L481.8,342.9 L482.5,342.9 L483.2,342.8 L484.0,342.7 L484.8,342.6 L485.5,342.5 L486.2,342.4 L487.0,342.2 L487.8,342.1 L488.5,341.9 L489.2,341.7 L490.0,341.6 L490.8,341.4 L491.5,341.1 L492.2,340.9 L493.0,340.6 L493.8,340.2 L494.5,339.8 L495.2,339.3 L496.0,338.7 L496.8,338.1 L497.5,337.5 L498.2,336.9 L499.0,336.3 L499.8,335.7 L500.5,335.1 L501.2,334.5 L502.0,333.8 L502.8,333.1 L503.5,332.4 L504.2,331.7 L505.0,331.0 L505.8,330.4 L506.5,329.8 L507.2,329.3 L508.0,328.9 L508.8,328.4 L509.5,327.9 L510.2,327.5 L511.0,327.1 L511.8,326.9 L512.5,326.9 L513.2,326.9 L514.0,326.9 L514.8,326.9 L515.5,326.9 L516.2,327.0 L517.0,327.0 L517.8,327.0 L518.5,327.0 L519.2,327.0 L520.0,327.0 L520.8,327.0 L521.5,327.0 L522.2,327.0 L523.0,327.0 L523.8,327.0 L524.5,327.0 L525.2,327.0 L526.0,327.0 L526.8,327.0 L527.5,327.0 L528.2,326.9 L529.0,326.8 L529.8,326.5 L530.5,326.3 L531.2,326.0 L532.0,325.6 L532.8,325.2 L533.5,324.8 L534.2,324.3 L535.0,323.8 L535.8,323.3 L536.5,322.8 L537.2,322.3 L538.0,321.8 L538.8,321.2 L539.5,320.7 L540.2,320.0 L541.0,319.3 L541.8,318.6 L542.5,317.7 L543.2,316.9 L544.0,316.0 L544.8,315.1 L545.5,314.1 L546.2,313.2 L547.0,312.3 L547.8,311.4 L548.5,310.4 L549.2,309.4 L550.0,308.4 L550.8,307.3 L551.5,306.1 L552.2,304.8 L553.0,303.3 L553.8,301.6 L554.5,299.4 L555.2,296.7 L556.0,293.7 L556.8,290.4 L557.5,287.1 L558.2,283.7 L559.0,280.5 L559.8,277.5 L560.5,275.0 L561.2,272.8 L562.0,270.7 L562.8,268.6 L563.5,266.5 L564.2,264.7 L565.0,263.2 L565.8,262.3 L566.5,261.9 L567.2,262.3 L568.0,263.4 L568.8,265.0 L569.5,267.0 L570.2,269.2 L571.0,271.5 L571.8,274.5 L572.5,278.5 L573.2,283.3 L574.0,288.4 L574.8,293.4 L575.5,298.1 L576.2,302.0 L577.0,305.2 L577.8,308.2 L578.5,311.1 L579.2,313.8 L580.0,316.2 L580.8,318.5 L581.5,320.4 L582.2,322.0 L583.0,323.4 L583.8,324.7 L584.5,325.9 L585.2,326.9 L586.0,327.9 L586.8,328.9 L587.5,329.9 L588.2,330.9 L589.0,331.9 L589.8,333.0 L590.5,334.1 L591.2,335.1 L592.0,336.1 L592.8,337.1 L593.5,338.0 L594.2,338.7 L595.0,339.4 L595.8,339.9 L596.5,340.2 L597.2,340.6 L598.0,340.9 L598.8,341.2 L599.5,341.4 L600.2,341.7 L601.0,341.9 L601.8,342.1 L602.5,342.3 L603.2,342.5 L604.0,342.6 L604.8,342.7 L605.5,342.8 L606.2,342.9 L607.0,343.0 L607.8,343.1 L608.5,343.1 L609.2,343.2 L610.0,343.3 L610.8,343.3 L611.5,343.4" fill="none" stroke="#ec9f28" stroke-width="0.8" stroke-opacity="1.0"/>
<path d="M462.0,343.4 L463.0,343.3 L464.0,343.3 L465.0,343.2 L466.0,343.1 L467.0,343.1 L468.0,342.9 L469.0,342.8 L470.0,342.7 L471.0,342.5 L472.0,342.2 L473.0,342.0 L474.0,341.7 L475.0,341.3 L476.0,340.9 L477.0,340.3 L478.0,339.7 L479.0,339.0 L480.0,338.1 L481.0,337.1 L482.0,335.8 L483.0,334.4 L484.0,332.6 L485.0,330.6 L486.0,328.2 L487.0,325.4 L488.0,322.2 L489.0,318.5 L490.0,314.3 L491.0,309.5 L492.0,304.2 L493.0,298.5 L494.0,292.2 L495.0,285.6 L496.0,278.7 L497.0,271.7 L498.0,264.7 L499.0,257.8 L500.0,251.4 L501.0,245.5 L502.0,240.4 L503.0,236.2 L504.0,233.1 L505.0,231.1 L506.0,230.5 L507.0,231.2 L508.0,233.3 L509.0,236.6 L510.0,241.2 L511.0,246.7 L512.0,253.0 L513.0,259.8 L514.0,267.1 L515.0,274.5 L516.0,281.8 L517.0,288.9 L518.0,295.7 L519.0,302.0 L520.0,307.8 L521.0,313.0 L522.0,317.6 L523.0,321.7 L524.0,325.2 L525.0,328.3 L526.0,330.8 L527.0,333.0 L528.0,334.8 L529.0,336.4 L530.0,337.6 L531.0,338.7 L532.0,339.5 L533.0,340.3 L534.0,340.9 L535.0,341.3 L536.0,341.7 L537.0,342.1 L538.0,342.4 L539.0,342.6 L540.0,342.8 L541.0,342.9 L542.0,343.0 L543.0,343.1 L544.0,343.2 L545.0,343.3 L546.0,343.3 L547.0,343.4" fill="none" stroke="#52bccb" stroke-width="0.8" stroke-opacity="1.0"/>
<path d="M460.0,343.4 L461.0,343.3 L462.0,343.3 L463.0,343.2 L464.0,343.2 L465.0,343.1 L466.0,343.0 L467.0,342.9 L468.0,342.7 L469.0,342.6 L470.0,342.3 L471.0,342.1 L472.0,341.8 L473.0,341.4 L474.0,341.0 L475.0,340.5 L476.0,339.9 L477.0,339.1 L478.0,338.2 L479.0,337.2 L480.0,336.0 L481.0,334.5 L482.0,332.8 L483.0,330.8 L484.0,328.4 L485.0,325.7 L486.0,322.6 L487.0,319.1 L488.0,315.0 L489.0,310.6 L490.0,305.6 L491.0,300.3 L492.0,294.5 L493.0,288.4 L494.0,282.1 L495.0,275.6 L496.0,269.1 L497.0,262.8 L498.0,256.8 L499.0,251.3 L500.0,246.3 L501.0,242.2 L502.0,239.0 L503.0,236.8 L504.0,235.6 L505.0,235.7 L506.0,236.9 L507.0,239.4 L508.0,243.0 L509.0,247.6 L510.0,253.1 L511.0,259.2 L512.0,265.8 L513.0,272.6 L514.0,279.5 L515.0,286.3 L516.0,292.9 L517.0,299.1 L518.0,304.9 L519.0,310.3 L520.0,315.1 L521.0,319.4 L522.0,323.1 L523.0,326.4 L524.0,329.2 L525.0,331.6 L526.0,333.7 L527.0,335.4 L528.0,336.8 L529.0,338.0 L530.0,339.0 L531.0,339.8 L532.0,340.5 L533.0,341.1 L534.0,341.5 L535.0,341.9 L536.0,342.2 L537.0,342.5 L538.0,342.7 L539.0,342.8 L540.0,343.0 L541.0,343.1 L542.0,343.2 L543.0,343.2 L544.0,343.3 L545.0,343.3 L546.0,343.4" fill="none" stroke="#5dc0cc" stroke-width="0.8" stroke-opacity="1.0"/>
<line x1="444.50" y1="224.00" x2="444.50" y2="343.50" stroke="#8c8c8c" stroke-width="0.8" />
<line x1="444.50" y1="343.50" x2="628.90" y2="343.50" stroke="#8c8c8c" stroke-width="0.8" />
<line x1="442.30" y1="273.60" x2="444.50" y2="273.60" stroke="#8c8c8c" stroke-width="0.8" />
<line x1="444.40" y1="343.50" x2="444.40" y2="345.70" stroke="#8c8c8c" stroke-width="0.8" />
<text x="444.40" y="356.90" font-size="7.8" fill="#404040" text-anchor="middle" >1/2</text>
<line x1="490.50" y1="343.50" x2="490.50" y2="345.70" stroke="#8c8c8c" stroke-width="0.8" />
<text x="490.50" y="356.90" font-size="7.8" fill="#404040" text-anchor="middle" >1</text>
<line x1="536.60" y1="343.50" x2="536.60" y2="345.70" stroke="#8c8c8c" stroke-width="0.8" />
<text x="536.60" y="356.90" font-size="7.8" fill="#404040" text-anchor="middle" >2</text>
<line x1="582.70" y1="343.50" x2="582.70" y2="345.70" stroke="#8c8c8c" stroke-width="0.8" />
<text x="582.70" y="356.90" font-size="7.8" fill="#404040" text-anchor="middle" >4</text>
<line x1="628.80" y1="343.50" x2="628.80" y2="345.70" stroke="#8c8c8c" stroke-width="0.8" />
<text x="628.80" y="356.90" font-size="7.8" fill="#404040" text-anchor="middle" >8</text>
<line x1="505.50" y1="223.50" x2="505.50" y2="343.50" stroke="#4bbfbe" stroke-width="0.8" stroke-dasharray="2.4,1.5"/>
<line x1="563.50" y1="223.50" x2="563.50" y2="343.50" stroke="#f0a030" stroke-width="0.8" stroke-dasharray="2.4,1.5"/>
<text x="505.30" y="220.70" font-size="8.6" fill="#3bb9b9" text-anchor="middle" textLength="11.5" lengthAdjust="spacingAndGlyphs" >1.3</text>
<text x="563.80" y="220.70" font-size="8.6" fill="#f0a030" text-anchor="middle" textLength="11.5" lengthAdjust="spacingAndGlyphs" >2.8</text>
<text x="536.80" y="371.40" font-size="8.9" fill="#404040" text-anchor="middle" textLength="112.5" lengthAdjust="spacingAndGlyphs" >Normalized fold change YFP</text>
<text x="436.50" y="283.60" font-size="8.9" fill="#404040" text-anchor="middle" textLength="30" lengthAdjust="spacingAndGlyphs" transform="rotate(-90 436.50 283.60)" >Density</text>
<rect x="582.30" y="232.00" width="6.80" height="6.60" fill="#ececec" />
<rect x="591.40" y="232.00" width="6.80" height="6.60" fill="#f1f2f3" />
<text x="602.40" y="238.50" font-size="8.9" fill="#404040" textLength="31.5" lengthAdjust="spacingAndGlyphs" >Control</text>
<rect x="582.30" y="242.60" width="6.80" height="6.60" fill="#cae8ee" />
<rect x="591.40" y="242.60" width="6.80" height="6.60" fill="#b8e0ec" />
<text x="602.40" y="249.10" font-size="8.9" fill="#404040" textLength="25.5" lengthAdjust="spacingAndGlyphs" >Cdc48</text>
<rect x="582.30" y="253.20" width="6.80" height="6.60" fill="#fcefb8" />
<rect x="591.40" y="253.20" width="6.80" height="6.60" fill="#fde1b5" />
<text x="602.40" y="259.70" font-size="8.9" fill="#404040" textLength="54.5" lengthAdjust="spacingAndGlyphs" >Cdc48(1–155)</text>
<text x="-0.10" y="399.20" font-size="12.0" fill="#111" font-weight="bold" stroke="#111" stroke-width="0.55">g</text>
<line x1="45.30" y1="396.00" x2="45.30" y2="534.00" stroke="#8c8c8c" stroke-width="0.8" />
<line x1="45.30" y1="534.00" x2="181.00" y2="534.00" stroke="#8c8c8c" stroke-width="0.8" />
<line x1="42.90" y1="534.00" x2="45.30" y2="534.00" stroke="#8c8c8c" stroke-width="0.8" />
<text x="38.60" y="536.80" font-size="7.9" fill="#404040" text-anchor="end" >0</text>
<line x1="42.90" y1="494.60" x2="45.30" y2="494.60" stroke="#8c8c8c" stroke-width="0.8" />
<text x="38.60" y="497.40" font-size="7.9" fill="#404040" text-anchor="end" >0.5</text>
<line x1="42.90" y1="455.20" x2="45.30" y2="455.20" stroke="#8c8c8c" stroke-width="0.8" />
<text x="38.60" y="458.00" font-size="7.9" fill="#404040" text-anchor="end" >1.0</text>
<line x1="42.90" y1="415.80" x2="45.30" y2="415.80" stroke="#8c8c8c" stroke-width="0.8" />
<text x="38.60" y="418.60" font-size="7.9" fill="#404040" text-anchor="end" >1.5</text>
<rect x="52.30" y="460.16" width="18.10" height="73.84" fill="#f3f5f4" />
<rect x="70.80" y="456.38" width="17.90" height="77.62" fill="#dcdddc" />
<rect x="89.00" y="450.24" width="17.20" height="83.76" fill="#cfd0cf" />
<rect x="120.30" y="423.13" width="18.00" height="110.87" fill="#e6f0f2" />
<rect x="138.80" y="402.88" width="17.50" height="131.12" fill="#b6dfe0" />
<rect x="156.80" y="418.87" width="17.70" height="115.13" fill="#8dc4da" />
<line x1="79.00" y1="534.00" x2="79.00" y2="536.20" stroke="#8c8c8c" stroke-width="0.8" />
<text x="79.00" y="547.00" font-size="7.6" fill="#404040" text-anchor="middle" >Control</text>
<line x1="147.40" y1="534.00" x2="147.40" y2="536.20" stroke="#8c8c8c" stroke-width="0.8" />
<text x="147.40" y="547.00" font-size="7.6" fill="#404040" text-anchor="middle" >Cdc48(1–55)</text>
<text x="113.90" y="562.30" font-size="8.9" fill="#404040" text-anchor="middle" textLength="118.5" lengthAdjust="spacingAndGlyphs" >Cdc48(1–155) tethered to YFP</text>
<text x="18.40" y="464.80" font-size="8.9" fill="#404040" text-anchor="middle" textLength="124" lengthAdjust="spacingAndGlyphs" transform="rotate(-90 18.40 464.80)" >Relative YFP mRNA abundance</text>
<text x="216.80" y="399.30" font-size="12.0" fill="#111" font-weight="bold" stroke="#111" stroke-width="0.55">h</text>
<text x="274.80" y="402.50" font-size="9.2" fill="#404040" text-anchor="middle" textLength="16.4" lengthAdjust="spacingAndGlyphs" >200</text>
<text x="309.60" y="402.50" font-size="9.2" fill="#404040" text-anchor="middle" textLength="16.4" lengthAdjust="spacingAndGlyphs" >400</text>
<text x="345.00" y="402.50" font-size="9.2" fill="#404040" text-anchor="middle" textLength="16.4" lengthAdjust="spacingAndGlyphs" >600</text>
<text x="380.20" y="402.50" font-size="9.2" fill="#404040" text-anchor="middle" textLength="16.4" lengthAdjust="spacingAndGlyphs" >800</text>
<path d="M275,405.4 L385.8,405.4 L396.2,414.1 L385.8,422.8 L275,422.8 Z" fill="#cbe7f0" stroke="#5cc3c9" stroke-width="0.9" />
<rect x="238.90" y="405.40" width="36.10" height="17.40" fill="#fbd48e" stroke="#f2a43a" stroke-width="0.9" />
<line x1="309.60" y1="405.40" x2="309.60" y2="407.20" stroke="#7ac8cf" stroke-width="0.6" />
<line x1="345.00" y1="405.40" x2="345.00" y2="407.20" stroke="#7ac8cf" stroke-width="0.6" />
<line x1="380.20" y1="405.40" x2="380.20" y2="407.20" stroke="#7ac8cf" stroke-width="0.6" />
<text x="256.90" y="412.60" font-size="7.2" fill="#4d4232" text-anchor="middle" textLength="32.0" lengthAdjust="spacingAndGlyphs" >Substrate</text>
<text x="256.90" y="420.80" font-size="7.2" fill="#4d4232" text-anchor="middle" textLength="25.0" lengthAdjust="spacingAndGlyphs" >binding</text>
<text x="317.60" y="418.30" font-size="9.0" fill="#404040" text-anchor="middle" textLength="26.0" lengthAdjust="spacingAndGlyphs" >Cdc48</text>
<text x="360.20" y="412.80" font-size="7.2" fill="#3f4b50" text-anchor="middle" textLength="18.0" lengthAdjust="spacingAndGlyphs" >AAA+</text>
<text x="360.20" y="421.90" font-size="7.2" fill="#3f4b50" text-anchor="middle" textLength="24.5" lengthAdjust="spacingAndGlyphs" >ATPase</text>
<rect x="239.20" y="428.70" width="26.20" height="10.90" fill="#efefef" stroke="#8a8a8a" stroke-width="0.8" />
<text x="240.00" y="438.00" font-size="8.8" fill="#999" textLength="2.6" lengthAdjust="spacingAndGlyphs" >1</text>
<text x="264.60" y="438.00" font-size="8.8" fill="#999" text-anchor="end" textLength="12.2" lengthAdjust="spacingAndGlyphs" >155</text>
<text x="268.60" y="437.30" font-size="8.9" fill="#404040" textLength="65.5" lengthAdjust="spacingAndGlyphs" >Screen fragment</text>
<text x="216.60" y="459.60" font-size="12.0" fill="#111" font-weight="bold" stroke="#111" stroke-width="0.1">i</text>
<text x="278.40" y="503.60" font-size="8.0" fill="#404040" textLength="25.8" lengthAdjust="spacingAndGlyphs" >Cytosol</text>
<text x="245.20" y="523.20" font-size="8.9" fill="#404040" text-anchor="middle" textLength="55.0" lengthAdjust="spacingAndGlyphs" >Mitochondrial</text>
<text x="245.40" y="533.20" font-size="8.9" fill="#404040" text-anchor="middle" textLength="18.5" lengthAdjust="spacingAndGlyphs" >&amp; ER</text>
<text x="245.20" y="543.20" font-size="8.9" fill="#404040" text-anchor="middle" textLength="42.5" lengthAdjust="spacingAndGlyphs" >membrane</text>
<text x="430.60" y="398.70" font-size="12.0" fill="#111" font-weight="bold" stroke="#111" stroke-width="0.1">j</text>
<path d="M445.0,531.3 L445.0,531.0 L446.0,531.0 L447.0,530.9 L448.0,530.9 L449.0,530.8 L450.0,530.8 L451.0,530.7 L452.0,530.7 L453.0,530.6 L454.0,530.6 L455.0,530.5 L456.0,530.5 L457.0,530.4 L458.0,530.3 L459.0,530.3 L460.0,530.2 L461.0,530.1 L462.0,530.1 L463.0,530.0 L464.0,529.9 L465.0,529.8 L466.0,529.6 L467.0,529.4 L468.0,529.2 L469.0,528.9 L470.0,528.5 L471.0,528.0 L472.0,527.3 L473.0,526.4 L474.0,525.2 L475.0,523.5 L476.0,521.3 L477.0,518.3 L478.0,514.3 L479.0,509.3 L480.0,502.9 L481.0,495.2 L482.0,486.2 L483.0,476.0 L484.0,465.0 L485.0,453.8 L486.0,442.9 L487.0,433.2 L488.0,425.5 L489.0,420.2 L490.0,418.0 L491.0,419.1 L492.0,423.6 L493.0,431.0 L494.0,440.6 L495.0,451.8 L496.0,463.5 L497.0,475.1 L498.0,485.9 L499.0,495.5 L500.0,503.6 L501.0,510.3 L502.0,515.6 L503.0,519.7 L504.0,522.8 L505.0,525.1 L506.0,526.8 L507.0,528.0 L508.0,528.9 L509.0,529.5 L510.0,530.0 L511.0,530.3 L512.0,530.6 L513.0,530.8 L514.0,530.9 L515.0,531.0 L516.0,531.1 L517.0,531.2 L518.0,531.2 L519.0,531.2 L520.0,531.3 L628.0,531.3 L628.9,531.3 Z" fill="#adadad" fill-opacity="0.6"/>
<path d="M445.0,531.3 L445.0,531.0 L446.0,531.0 L447.0,530.9 L448.0,530.9 L449.0,530.8 L450.0,530.8 L451.0,530.7 L452.0,530.7 L453.0,530.6 L454.0,530.6 L455.0,530.5 L456.0,530.5 L457.0,530.4 L458.0,530.3 L459.0,530.3 L460.0,530.2 L461.0,530.2 L462.0,530.1 L463.0,530.0 L464.0,529.9 L465.0,529.8 L466.0,529.7 L467.0,529.6 L468.0,529.4 L469.0,529.1 L470.0,528.8 L471.0,528.4 L472.0,527.9 L473.0,527.2 L474.0,526.2 L475.0,525.0 L476.0,523.3 L477.0,521.0 L478.0,518.0 L479.0,514.1 L480.0,509.0 L481.0,502.7 L482.0,495.1 L483.0,486.3 L484.0,476.3 L485.0,465.5 L486.0,454.5 L487.0,443.9 L488.0,434.4 L489.0,426.8 L490.0,421.7 L491.0,419.6 L492.0,420.6 L493.0,425.0 L494.0,432.2 L495.0,441.6 L496.0,452.5 L497.0,464.0 L498.0,475.4 L499.0,486.0 L500.0,495.4 L501.0,503.5 L502.0,510.1 L503.0,515.4 L504.0,519.4 L505.0,522.5 L506.0,524.8 L507.0,526.5 L508.0,527.8 L509.0,528.7 L510.0,529.4 L511.0,529.9 L512.0,530.3 L513.0,530.5 L514.0,530.7 L515.0,530.9 L516.0,531.0 L517.0,531.1 L518.0,531.2 L519.0,531.2 L520.0,531.2 L521.0,531.3 L628.0,531.3 L628.9,531.3 Z" fill="#bdbdbd" fill-opacity="0.45"/>
<path d="M445.0,531.3 L445.0,531.3 L470.0,531.3 L471.0,531.2 L472.0,531.2 L473.0,531.2 L474.0,531.2 L475.0,531.1 L476.0,531.1 L477.0,531.0 L478.0,530.9 L479.0,530.8 L480.0,530.7 L481.0,530.5 L482.0,530.3 L483.0,530.1 L484.0,529.8 L485.0,529.4 L486.0,529.0 L487.0,528.4 L488.0,527.7 L489.0,526.8 L490.0,525.6 L491.0,524.2 L492.0,522.3 L493.0,520.0 L494.0,517.2 L495.0,513.7 L496.0,509.6 L497.0,504.7 L498.0,499.0 L499.0,492.7 L500.0,485.8 L501.0,478.4 L502.0,470.7 L503.0,463.1 L504.0,455.9 L505.0,449.3 L506.0,443.7 L507.0,439.4 L508.0,436.7 L509.0,435.6 L510.0,436.3 L511.0,438.6 L512.0,442.4 L513.0,447.5 L514.0,453.6 L515.0,460.5 L516.0,467.8 L517.0,475.3 L518.0,482.7 L519.0,489.7 L520.0,496.2 L521.0,502.0 L522.0,507.2 L523.0,511.7 L524.0,515.4 L525.0,518.6 L526.0,521.2 L527.0,523.2 L528.0,524.9 L529.0,526.2 L530.0,527.3 L531.0,528.1 L532.0,528.8 L533.0,529.3 L534.0,529.7 L535.0,530.0 L536.0,530.3 L537.0,530.5 L538.0,530.6 L539.0,530.8 L540.0,530.9 L541.0,531.0 L542.0,531.1 L543.0,531.1 L544.0,531.2 L545.0,531.2 L546.0,531.2 L547.0,531.2 L548.0,531.3 L628.0,531.3 L628.9,531.3 Z" fill="#f0c3c8" fill-opacity="0.7"/>
<path d="M445.0,531.3 L445.0,531.3 L498.0,531.3 L499.0,531.2 L500.0,531.2 L501.0,531.2 L502.0,531.2 L503.0,531.2 L504.0,531.1 L505.0,531.1 L506.0,531.0 L507.0,531.0 L508.0,530.9 L509.0,530.8 L510.0,530.7 L511.0,530.6 L512.0,530.4 L513.0,530.2 L514.0,530.0 L515.0,529.7 L516.0,529.4 L517.0,529.0 L518.0,528.6 L519.0,528.0 L520.0,527.3 L521.0,526.5 L522.0,525.5 L523.0,524.2 L524.0,522.7 L525.0,520.9 L526.0,518.8 L527.0,516.3 L528.0,513.3 L529.0,510.0 L530.0,506.1 L531.0,501.7 L532.0,496.9 L533.0,491.7 L534.0,486.2 L535.0,480.4 L536.0,474.5 L537.0,468.6 L538.0,462.9 L539.0,457.6 L540.0,452.8 L541.0,448.8 L542.0,445.6 L543.0,443.4 L544.0,442.2 L545.0,442.4 L546.0,444.6 L547.0,449.0 L548.0,455.1 L549.0,462.5 L550.0,470.7 L551.0,479.2 L552.0,487.6 L553.0,495.5 L554.0,502.7 L555.0,508.9 L556.0,514.1 L557.0,518.4 L558.0,521.8 L559.0,524.4 L560.0,526.3 L561.0,527.8 L562.0,528.9 L563.0,529.6 L564.0,530.1 L565.0,530.5 L566.0,530.8 L567.0,530.9 L568.0,531.1 L569.0,531.1 L570.0,531.2 L571.0,531.2 L572.0,531.3 L628.0,531.3 L628.9,531.3 Z" fill="#f9c898" fill-opacity="0.6"/>
<path d="M445.0,531.3 L445.0,531.3 L516.0,531.3 L517.0,531.2 L518.0,531.2 L519.0,531.2 L520.0,531.2 L521.0,531.1 L522.0,531.1 L523.0,531.0 L524.0,530.9 L525.0,530.8 L526.0,530.7 L527.0,530.6 L528.0,530.4 L529.0,530.2 L530.0,529.9 L531.0,529.6 L532.0,529.2 L533.0,528.7 L534.0,528.1 L535.0,527.3 L536.0,526.3 L537.0,525.1 L538.0,523.6 L539.0,521.7 L540.0,519.3 L541.0,516.4 L542.0,512.8 L543.0,508.6 L544.0,503.7 L545.0,498.1 L546.0,491.8 L547.0,485.1 L548.0,478.0 L549.0,470.9 L550.0,463.9 L551.0,457.5 L552.0,452.0 L553.0,447.7 L554.0,444.7 L555.0,443.4 L556.0,443.8 L557.0,446.4 L558.0,451.0 L559.0,457.2 L560.0,464.5 L561.0,472.5 L562.0,480.8 L563.0,488.9 L564.0,496.4 L565.0,503.1 L566.0,509.0 L567.0,514.0 L568.0,518.0 L569.0,521.2 L570.0,523.7 L571.0,525.6 L572.0,527.1 L573.0,528.2 L574.0,529.0 L575.0,529.6 L576.0,530.0 L577.0,530.4 L578.0,530.6 L579.0,530.8 L580.0,530.9 L581.0,531.0 L582.0,531.1 L583.0,531.2 L584.0,531.2 L585.0,531.2 L586.0,531.3 L628.0,531.3 L628.9,531.3 Z" fill="#faf0a4" fill-opacity="0.55"/>
<path d="M445.0,531.0 L446.0,531.0 L447.0,530.9 L448.0,530.9 L449.0,530.8 L450.0,530.8 L451.0,530.7 L452.0,530.7 L453.0,530.6 L454.0,530.6 L455.0,530.5 L456.0,530.5 L457.0,530.4 L458.0,530.3 L459.0,530.3 L460.0,530.2 L461.0,530.1 L462.0,530.1 L463.0,530.0 L464.0,529.9 L465.0,529.8 L466.0,529.6 L467.0,529.4 L468.0,529.2 L469.0,528.9 L470.0,528.5 L471.0,528.0 L472.0,527.3 L473.0,526.4 L474.0,525.2 L475.0,523.5 L476.0,521.3 L477.0,518.3 L478.0,514.3 L479.0,509.3 L480.0,502.9 L481.0,495.2 L482.0,486.2 L483.0,476.0 L484.0,465.0 L485.0,453.8 L486.0,442.9 L487.0,433.2 L488.0,425.5 L489.0,420.2 L490.0,418.0 L491.0,419.1 L492.0,423.6 L493.0,431.0 L494.0,440.6 L495.0,451.8 L496.0,463.5 L497.0,475.1 L498.0,485.9 L499.0,495.5 L500.0,503.6 L501.0,510.3 L502.0,515.6 L503.0,519.7 L504.0,522.8 L505.0,525.1 L506.0,526.8 L507.0,528.0 L508.0,528.9 L509.0,529.5 L510.0,530.0 L511.0,530.3 L512.0,530.6 L513.0,530.8 L514.0,530.9 L515.0,531.0 L516.0,531.1 L517.0,531.2" fill="none" stroke="#8a8a8a" stroke-width="0.6" stroke-opacity="1.0"/>
<path d="M445.0,531.0 L446.0,531.0 L447.0,530.9 L448.0,530.9 L449.0,530.8 L450.0,530.8 L451.0,530.7 L452.0,530.7 L453.0,530.6 L454.0,530.6 L455.0,530.5 L456.0,530.5 L457.0,530.4 L458.0,530.3 L459.0,530.3 L460.0,530.2 L461.0,530.2 L462.0,530.1 L463.0,530.0 L464.0,529.9 L465.0,529.8 L466.0,529.7 L467.0,529.6 L468.0,529.4 L469.0,529.1 L470.0,528.8 L471.0,528.4 L472.0,527.9 L473.0,527.2 L474.0,526.2 L475.0,525.0 L476.0,523.3 L477.0,521.0 L478.0,518.0 L479.0,514.1 L480.0,509.0 L481.0,502.7 L482.0,495.1 L483.0,486.3 L484.0,476.3 L485.0,465.5 L486.0,454.5 L487.0,443.9 L488.0,434.4 L489.0,426.8 L490.0,421.7 L491.0,419.6 L492.0,420.6 L493.0,425.0 L494.0,432.2 L495.0,441.6 L496.0,452.5 L497.0,464.0 L498.0,475.4 L499.0,486.0 L500.0,495.4 L501.0,503.5 L502.0,510.1 L503.0,515.4 L504.0,519.4 L505.0,522.5 L506.0,524.8 L507.0,526.5 L508.0,527.8 L509.0,528.7 L510.0,529.4 L511.0,529.9 L512.0,530.3 L513.0,530.5 L514.0,530.7 L515.0,530.9 L516.0,531.0 L517.0,531.1 L518.0,531.2" fill="none" stroke="#979797" stroke-width="0.6" stroke-opacity="1.0"/>
<path d="M474.0,531.2 L475.0,531.1 L476.0,531.1 L477.0,531.0 L478.0,530.9 L479.0,530.8 L480.0,530.7 L481.0,530.5 L482.0,530.3 L483.0,530.1 L484.0,529.8 L485.0,529.4 L486.0,529.0 L487.0,528.4 L488.0,527.7 L489.0,526.8 L490.0,525.6 L491.0,524.2 L492.0,522.3 L493.0,520.0 L494.0,517.2 L495.0,513.7 L496.0,509.6 L497.0,504.7 L498.0,499.0 L499.0,492.7 L500.0,485.8 L501.0,478.4 L502.0,470.7 L503.0,463.1 L504.0,455.9 L505.0,449.3 L506.0,443.7 L507.0,439.4 L508.0,436.7 L509.0,435.6 L510.0,436.3 L511.0,438.6 L512.0,442.4 L513.0,447.5 L514.0,453.6 L515.0,460.5 L516.0,467.8 L517.0,475.3 L518.0,482.7 L519.0,489.7 L520.0,496.2 L521.0,502.0 L522.0,507.2 L523.0,511.7 L524.0,515.4 L525.0,518.6 L526.0,521.2 L527.0,523.2 L528.0,524.9 L529.0,526.2 L530.0,527.3 L531.0,528.1 L532.0,528.8 L533.0,529.3 L534.0,529.7 L535.0,530.0 L536.0,530.3 L537.0,530.5 L538.0,530.6 L539.0,530.8 L540.0,530.9 L541.0,531.0 L542.0,531.1 L543.0,531.1 L544.0,531.2" fill="none" stroke="#d65858" stroke-width="0.8" stroke-opacity="1.0"/>
<path d="M503.0,531.2 L504.0,531.1 L505.0,531.1 L506.0,531.0 L507.0,531.0 L508.0,530.9 L509.0,530.8 L510.0,530.7 L511.0,530.6 L512.0,530.4 L513.0,530.2 L514.0,530.0 L515.0,529.7 L516.0,529.4 L517.0,529.0 L518.0,528.6 L519.0,528.0 L520.0,527.3 L521.0,526.5 L522.0,525.5 L523.0,524.2 L524.0,522.7 L525.0,520.9 L526.0,518.8 L527.0,516.3 L528.0,513.3 L529.0,510.0 L530.0,506.1 L531.0,501.7 L532.0,496.9 L533.0,491.7 L534.0,486.2 L535.0,480.4 L536.0,474.5 L537.0,468.6 L538.0,462.9 L539.0,457.6 L540.0,452.8 L541.0,448.8 L542.0,445.6 L543.0,443.4 L544.0,442.2 L545.0,442.4 L546.0,444.6 L547.0,449.0 L548.0,455.1 L549.0,462.5 L550.0,470.7 L551.0,479.2 L552.0,487.6 L553.0,495.5 L554.0,502.7 L555.0,508.9 L556.0,514.1 L557.0,518.4 L558.0,521.8 L559.0,524.4 L560.0,526.3 L561.0,527.8 L562.0,528.9 L563.0,529.6 L564.0,530.1 L565.0,530.5 L566.0,530.8 L567.0,530.9 L568.0,531.1 L569.0,531.1 L570.0,531.2" fill="none" stroke="#ee8a30" stroke-width="0.8" stroke-opacity="1.0"/>
<path d="M520.0,531.2 L521.0,531.1 L522.0,531.1 L523.0,531.0 L524.0,530.9 L525.0,530.8 L526.0,530.7 L527.0,530.6 L528.0,530.4 L529.0,530.2 L530.0,529.9 L531.0,529.6 L532.0,529.2 L533.0,528.7 L534.0,528.1 L535.0,527.3 L536.0,526.3 L537.0,525.1 L538.0,523.6 L539.0,521.7 L540.0,519.3 L541.0,516.4 L542.0,512.8 L543.0,508.6 L544.0,503.7 L545.0,498.1 L546.0,491.8 L547.0,485.1 L548.0,478.0 L549.0,470.9 L550.0,463.9 L551.0,457.5 L552.0,452.0 L553.0,447.7 L554.0,444.7 L555.0,443.4 L556.0,443.8 L557.0,446.4 L558.0,451.0 L559.0,457.2 L560.0,464.5 L561.0,472.5 L562.0,480.8 L563.0,488.9 L564.0,496.4 L565.0,503.1 L566.0,509.0 L567.0,514.0 L568.0,518.0 L569.0,521.2 L570.0,523.7 L571.0,525.6 L572.0,527.1 L573.0,528.2 L574.0,529.0 L575.0,529.6 L576.0,530.0 L577.0,530.4 L578.0,530.6 L579.0,530.8 L580.0,530.9 L581.0,531.0 L582.0,531.1 L583.0,531.2" fill="none" stroke="#f4c91c" stroke-width="0.8" stroke-opacity="1.0"/>
<line x1="444.20" y1="412.20" x2="444.20" y2="531.30" stroke="#8c8c8c" stroke-width="0.8" />
<line x1="444.20" y1="531.30" x2="628.90" y2="531.30" stroke="#8c8c8c" stroke-width="0.8" />
<line x1="442.00" y1="491.90" x2="444.20" y2="491.90" stroke="#8c8c8c" stroke-width="0.8" />
<line x1="444.10" y1="531.30" x2="444.10" y2="533.50" stroke="#8c8c8c" stroke-width="0.8" />
<text x="444.10" y="544.60" font-size="7.8" fill="#404040" text-anchor="middle" >1/2</text>
<line x1="490.10" y1="531.30" x2="490.10" y2="533.50" stroke="#8c8c8c" stroke-width="0.8" />
<text x="490.10" y="544.60" font-size="7.8" fill="#404040" text-anchor="middle" >1</text>
<line x1="536.10" y1="531.30" x2="536.10" y2="533.50" stroke="#8c8c8c" stroke-width="0.8" />
<text x="536.10" y="544.60" font-size="7.8" fill="#404040" text-anchor="middle" >2</text>
<line x1="582.10" y1="531.30" x2="582.10" y2="533.50" stroke="#8c8c8c" stroke-width="0.8" />
<text x="582.10" y="544.60" font-size="7.8" fill="#404040" text-anchor="middle" >4</text>
<line x1="628.10" y1="531.30" x2="628.10" y2="533.50" stroke="#8c8c8c" stroke-width="0.8" />
<text x="628.10" y="544.60" font-size="7.8" fill="#404040" text-anchor="middle" >8</text>
<line x1="509.50" y1="411.50" x2="509.50" y2="531.30" stroke="#d95a5a" stroke-width="0.8" stroke-dasharray="2.4,1.5"/>
<line x1="544.40" y1="411.50" x2="544.40" y2="531.30" stroke="#ef8b33" stroke-width="0.8" stroke-dasharray="2.4,1.5"/>
<line x1="555.30" y1="411.50" x2="555.30" y2="531.30" stroke="#ef8b33" stroke-width="0.8" stroke-dasharray="2.4,1.5"/>
<text x="510.90" y="409.80" font-size="8.6" fill="#d95a5a" text-anchor="middle" textLength="11.5" lengthAdjust="spacingAndGlyphs" >1.3</text>
<text x="543.80" y="409.80" font-size="8.6" fill="#ef9b45" text-anchor="middle" textLength="11.5" lengthAdjust="spacingAndGlyphs" >2.3</text>
<text x="558.10" y="409.80" font-size="8.6" fill="#ef9b45" text-anchor="middle" textLength="11.5" lengthAdjust="spacingAndGlyphs" >2.7</text>
<text x="536.90" y="559.90" font-size="8.9" fill="#404040" text-anchor="middle" textLength="108.3" lengthAdjust="spacingAndGlyphs" >Normalized YFP expression</text>
<text x="435.80" y="472.00" font-size="8.9" fill="#404040" text-anchor="middle" textLength="30" lengthAdjust="spacingAndGlyphs" transform="rotate(-90 435.80 472.00)" >Density</text>
<rect x="578.10" y="421.40" width="14.80" height="5.20" fill="#e6e8e8" />
<text x="597.60" y="427.00" font-size="8.9" fill="#404040" textLength="43.5" lengthAdjust="spacingAndGlyphs" >WT control</text>
<rect x="578.10" y="432.00" width="14.80" height="5.20" fill="#d8d8d8" />
<text x="597.60" y="437.60" font-size="8.9" fill="#404040" textLength="62.0" lengthAdjust="spacingAndGlyphs" >ubx2ΔC control</text>
<rect x="578.10" y="442.60" width="14.80" height="5.20" fill="#eeeeee" />
<text x="597.60" y="448.20" font-size="8.9" fill="#404040" textLength="57.0" lengthAdjust="spacingAndGlyphs" >ubx2Δ control</text>
<rect x="578.10" y="453.20" width="14.80" height="5.20" fill="#fbf0b0" />
<text x="597.60" y="458.80" font-size="8.9" fill="#404040" textLength="67.0" lengthAdjust="spacingAndGlyphs" >WT Cdc48(1–155)</text>
<rect x="578.10" y="463.80" width="14.80" height="5.20" fill="#fbd8b4" />
<text x="597.60" y="469.40" font-size="8.9" fill="#404040" textLength="87.0" lengthAdjust="spacingAndGlyphs" >ubx2ΔC Cdc48(1–155)</text>
<rect x="578.10" y="474.40" width="14.80" height="5.20" fill="#f1cdd2" />
<text x="597.60" y="480.00" font-size="8.9" fill="#404040" textLength="81.0" lengthAdjust="spacingAndGlyphs" >ubx2Δ Cdc48(1–155)</text>
<defs><radialGradient id="hd" cx="50%" cy="50%" r="50%"><stop offset="0" stop-color="#fff"/><stop offset="0.3" stop-color="#fff"/><stop offset="0.62" stop-color="#f9c6de"/><stop offset="0.86" stop-color="#f292c2"/><stop offset="1" stop-color="#ee80b7"/></radialGradient><radialGradient id="gbl" cx="50%" cy="50%" r="50%"><stop offset="0" stop-color="#cdeaf2"/><stop offset="1" stop-color="#c4e5ef"/></radialGradient></defs>
<rect x="282.4" y="510.9" width="113.6" height="33.6" fill="#f5e0ea"/>
<path d="M282.30,514.90 L282.81,515.60 L283.23,516.30 L283.51,517.00 L283.60,517.70 L283.48,518.40 L283.18,519.10 L282.74,519.80 L282.23,520.50 L281.73,521.20 L281.32,521.90 L281.06,522.60 L281.00,523.30 L281.15,524.00 L281.48,524.70 L281.93,525.40 L282.45,526.10 L282.94,526.80 L283.33,527.50 L283.56,528.20 L283.59,528.90 L283.41,529.60 L283.06,530.30 L282.59,531.00 L282.08,531.70 L281.60,532.40 L281.23,533.10 L281.03,533.80 L281.03,534.50 L281.23,535.20 L281.60,535.90 L282.08,536.60 L282.59,537.30 L283.06,538.00 L283.41,538.70 L283.59,539.40 L283.56,540.10" fill="none" stroke="#ef86ba" stroke-width="0.8"/>
<path d="M286.50,514.90 L287.01,515.60 L287.43,516.30 L287.71,517.00 L287.80,517.70 L287.68,518.40 L287.38,519.10 L286.94,519.80 L286.43,520.50 L285.93,521.20 L285.52,521.90 L285.26,522.60 L285.20,523.30 L285.35,524.00 L285.68,524.70 L286.13,525.40 L286.65,526.10 L287.14,526.80 L287.53,527.50 L287.76,528.20 L287.79,528.90 L287.61,529.60 L287.26,530.30 L286.79,531.00 L286.28,531.70 L285.80,532.40 L285.43,533.10 L285.23,533.80 L285.23,534.50 L285.43,535.20 L285.80,535.90 L286.28,536.60 L286.79,537.30 L287.26,538.00 L287.61,538.70 L287.79,539.40 L287.76,540.10" fill="none" stroke="#ef86ba" stroke-width="0.8"/>
<path d="M291.43,514.90 L291.94,515.60 L292.37,516.30 L292.64,517.00 L292.73,517.70 L292.62,518.40 L292.31,519.10 L291.87,519.80 L291.36,520.50 L290.86,521.20 L290.45,521.90 L290.20,522.60 L290.14,523.30 L290.28,524.00 L290.61,524.70 L291.07,525.40 L291.58,526.10 L292.07,526.80 L292.46,527.50 L292.69,528.20 L292.72,528.90 L292.55,529.60 L292.20,530.30 L291.73,531.00 L291.21,531.70 L290.73,532.40 L290.36,533.10 L290.16,533.80 L290.16,534.50 L290.36,535.20 L290.73,535.90 L291.21,536.60 L291.73,537.30 L292.20,538.00 L292.55,538.70 L292.72,539.40 L292.69,540.10" fill="none" stroke="#ef86ba" stroke-width="0.8"/>
<path d="M295.63,514.90 L296.14,515.60 L296.57,516.30 L296.84,517.00 L296.93,517.70 L296.82,518.40 L296.51,519.10 L296.07,519.80 L295.56,520.50 L295.06,521.20 L294.65,521.90 L294.40,522.60 L294.34,523.30 L294.48,524.00 L294.81,524.70 L295.27,525.40 L295.78,526.10 L296.27,526.80 L296.66,527.50 L296.89,528.20 L296.92,528.90 L296.75,529.60 L296.40,530.30 L295.93,531.00 L295.41,531.70 L294.93,532.40 L294.56,533.10 L294.36,533.80 L294.36,534.50 L294.56,535.20 L294.93,535.90 L295.41,536.60 L295.93,537.30 L296.40,538.00 L296.75,538.70 L296.92,539.40 L296.89,540.10" fill="none" stroke="#ef86ba" stroke-width="0.8"/>
<path d="M300.57,514.90 L301.07,515.60 L301.50,516.30 L301.78,517.00 L301.87,517.70 L301.75,518.40 L301.45,519.10 L301.00,519.80 L300.49,520.50 L299.99,521.20 L299.58,521.90 L299.33,522.60 L299.27,523.30 L299.42,524.00 L299.74,524.70 L300.20,525.40 L300.71,526.10 L301.21,526.80 L301.60,527.50 L301.82,528.20 L301.85,528.90 L301.68,529.60 L301.33,530.30 L300.86,531.00 L300.34,531.70 L299.86,532.40 L299.49,533.10 L299.29,533.80 L299.29,534.50 L299.49,535.20 L299.86,535.90 L300.34,536.60 L300.86,537.30 L301.33,538.00 L301.68,538.70 L301.85,539.40 L301.82,540.10" fill="none" stroke="#ef86ba" stroke-width="0.8"/>
<path d="M304.77,514.90 L305.27,515.60 L305.70,516.30 L305.98,517.00 L306.07,517.70 L305.95,518.40 L305.65,519.10 L305.20,519.80 L304.69,520.50 L304.19,521.20 L303.78,521.90 L303.53,522.60 L303.47,523.30 L303.62,524.00 L303.94,524.70 L304.40,525.40 L304.91,526.10 L305.41,526.80 L305.80,527.50 L306.02,528.20 L306.05,528.90 L305.88,529.60 L305.53,530.30 L305.06,531.00 L304.54,531.70 L304.06,532.40 L303.69,533.10 L303.49,533.80 L303.49,534.50 L303.69,535.20 L304.06,535.90 L304.54,536.60 L305.06,537.30 L305.53,538.00 L305.88,538.70 L306.05,539.40 L306.02,540.10" fill="none" stroke="#ef86ba" stroke-width="0.8"/>
<path d="M309.70,514.90 L310.21,515.60 L310.63,516.30 L310.91,517.00 L311.00,517.70 L310.88,518.40 L310.58,519.10 L310.14,519.80 L309.62,520.50 L309.13,521.20 L308.72,521.90 L308.46,522.60 L308.40,523.30 L308.55,524.00 L308.88,524.70 L309.33,525.40 L309.85,526.10 L310.34,526.80 L310.73,527.50 L310.96,528.20 L310.99,528.90 L310.81,529.60 L310.46,530.30 L309.99,531.00 L309.48,531.70 L309.00,532.40 L308.63,533.10 L308.42,533.80 L308.42,534.50 L308.63,535.20 L309.00,535.90 L309.48,536.60 L309.99,537.30 L310.46,538.00 L310.81,538.70 L310.99,539.40 L310.96,540.10" fill="none" stroke="#ef86ba" stroke-width="0.8"/>
<path d="M313.90,514.90 L314.41,515.60 L314.83,516.30 L315.11,517.00 L315.20,517.70 L315.08,518.40 L314.78,519.10 L314.34,519.80 L313.82,520.50 L313.33,521.20 L312.92,521.90 L312.66,522.60 L312.60,523.30 L312.75,524.00 L313.08,524.70 L313.53,525.40 L314.05,526.10 L314.54,526.80 L314.93,527.50 L315.16,528.20 L315.19,528.90 L315.01,529.60 L314.66,530.30 L314.19,531.00 L313.68,531.70 L313.20,532.40 L312.83,533.10 L312.62,533.80 L312.62,534.50 L312.83,535.20 L313.20,535.90 L313.68,536.60 L314.19,537.30 L314.66,538.00 L315.01,538.70 L315.19,539.40 L315.16,540.10" fill="none" stroke="#ef86ba" stroke-width="0.8"/>
<path d="M318.83,514.90 L319.34,515.60 L319.76,516.30 L320.04,517.00 L320.13,517.70 L320.01,518.40 L319.71,519.10 L319.27,519.80 L318.76,520.50 L318.26,521.20 L317.85,521.90 L317.60,522.60 L317.54,523.30 L317.68,524.00 L318.01,524.70 L318.47,525.40 L318.98,526.10 L319.47,526.80 L319.86,527.50 L320.09,528.20 L320.12,528.90 L319.95,529.60 L319.60,530.30 L319.13,531.00 L318.61,531.70 L318.13,532.40 L317.76,533.10 L317.56,533.80 L317.56,534.50 L317.76,535.20 L318.13,535.90 L318.61,536.60 L319.13,537.30 L319.60,538.00 L319.95,538.70 L320.12,539.40 L320.09,540.10" fill="none" stroke="#ef86ba" stroke-width="0.8"/>
<path d="M323.03,514.90 L323.54,515.60 L323.96,516.30 L324.24,517.00 L324.33,517.70 L324.21,518.40 L323.91,519.10 L323.47,519.80 L322.96,520.50 L322.46,521.20 L322.05,521.90 L321.80,522.60 L321.74,523.30 L321.88,524.00 L322.21,524.70 L322.67,525.40 L323.18,526.10 L323.67,526.80 L324.06,527.50 L324.29,528.20 L324.32,528.90 L324.15,529.60 L323.80,530.30 L323.33,531.00 L322.81,531.70 L322.33,532.40 L321.96,533.10 L321.76,533.80 L321.76,534.50 L321.96,535.20 L322.33,535.90 L322.81,536.60 L323.33,537.30 L323.80,538.00 L324.15,538.70 L324.32,539.40 L324.29,540.10" fill="none" stroke="#ef86ba" stroke-width="0.8"/>
<path d="M327.96,514.90 L328.47,515.60 L328.90,516.30 L329.18,517.00 L329.26,517.70 L329.15,518.40 L328.84,519.10 L328.40,519.80 L327.89,520.50 L327.39,521.20 L326.98,521.90 L326.73,522.60 L326.67,523.30 L326.82,524.00 L327.14,524.70 L327.60,525.40 L328.11,526.10 L328.60,526.80 L328.99,527.50 L329.22,528.20 L329.25,528.90 L329.08,529.60 L328.73,530.30 L328.26,531.00 L327.74,531.70 L327.26,532.40 L326.89,533.10 L326.69,533.80 L326.69,534.50 L326.89,535.20 L327.26,535.90 L327.74,536.60 L328.26,537.30 L328.73,538.00 L329.08,538.70 L329.25,539.40 L329.22,540.10" fill="none" stroke="#ef86ba" stroke-width="0.8"/>
<path d="M332.16,514.90 L332.67,515.60 L333.10,516.30 L333.38,517.00 L333.46,517.70 L333.35,518.40 L333.04,519.10 L332.60,519.80 L332.09,520.50 L331.59,521.20 L331.18,521.90 L330.93,522.60 L330.87,523.30 L331.02,524.00 L331.34,524.70 L331.80,525.40 L332.31,526.10 L332.80,526.80 L333.19,527.50 L333.42,528.20 L333.45,528.90 L333.28,529.60 L332.93,530.30 L332.46,531.00 L331.94,531.70 L331.46,532.40 L331.09,533.10 L330.89,533.80 L330.89,534.50 L331.09,535.20 L331.46,535.90 L331.94,536.60 L332.46,537.30 L332.93,538.00 L333.28,538.70 L333.45,539.40 L333.42,540.10" fill="none" stroke="#ef86ba" stroke-width="0.8"/>
<path d="M337.10,514.90 L337.60,515.60 L338.03,516.30 L338.31,517.00 L338.40,517.70 L338.28,518.40 L337.98,519.10 L337.53,519.80 L337.02,520.50 L336.52,521.20 L336.12,521.90 L335.86,522.60 L335.80,523.30 L335.95,524.00 L336.28,524.70 L336.73,525.40 L337.25,526.10 L337.74,526.80 L338.13,527.50 L338.36,528.20 L338.38,528.90 L338.21,529.60 L337.86,530.30 L337.39,531.00 L336.88,531.70 L336.40,532.40 L336.02,533.10 L335.82,533.80 L335.82,534.50 L336.02,535.20 L336.40,535.90 L336.88,536.60 L337.39,537.30 L337.86,538.00 L338.21,538.70 L338.38,539.40 L338.36,540.10" fill="none" stroke="#ef86ba" stroke-width="0.8"/>
<path d="M341.30,514.90 L341.80,515.60 L342.23,516.30 L342.51,517.00 L342.60,517.70 L342.48,518.40 L342.18,519.10 L341.73,519.80 L341.22,520.50 L340.72,521.20 L340.32,521.90 L340.06,522.60 L340.00,523.30 L340.15,524.00 L340.48,524.70 L340.93,525.40 L341.45,526.10 L341.94,526.80 L342.33,527.50 L342.56,528.20 L342.58,528.90 L342.41,529.60 L342.06,530.30 L341.59,531.00 L341.08,531.70 L340.60,532.40 L340.22,533.10 L340.02,533.80 L340.02,534.50 L340.22,535.20 L340.60,535.90 L341.08,536.60 L341.59,537.30 L342.06,538.00 L342.41,538.70 L342.58,539.40 L342.56,540.10" fill="none" stroke="#ef86ba" stroke-width="0.8"/>
<path d="M346.23,514.90 L346.74,515.60 L347.16,516.30 L347.44,517.00 L347.53,517.70 L347.41,518.40 L347.11,519.10 L346.67,519.80 L346.16,520.50 L345.66,521.20 L345.25,521.90 L344.99,522.60 L344.94,523.30 L345.08,524.00 L345.41,524.70 L345.86,525.40 L346.38,526.10 L346.87,526.80 L347.26,527.50 L347.49,528.20 L347.52,528.90 L347.34,529.60 L347.00,530.30 L346.53,531.00 L346.01,531.70 L345.53,532.40 L345.16,533.10 L344.96,533.80 L344.96,534.50 L345.16,535.20 L345.53,535.90 L346.01,536.60 L346.53,537.30 L347.00,538.00 L347.34,538.70 L347.52,539.40 L347.49,540.10" fill="none" stroke="#ef86ba" stroke-width="0.8"/>
<path d="M350.43,514.90 L350.94,515.60 L351.36,516.30 L351.64,517.00 L351.73,517.70 L351.61,518.40 L351.31,519.10 L350.87,519.80 L350.36,520.50 L349.86,521.20 L349.45,521.90 L349.19,522.60 L349.14,523.30 L349.28,524.00 L349.61,524.70 L350.06,525.40 L350.58,526.10 L351.07,526.80 L351.46,527.50 L351.69,528.20 L351.72,528.90 L351.54,529.60 L351.20,530.30 L350.73,531.00 L350.21,531.70 L349.73,532.40 L349.36,533.10 L349.16,533.80 L349.16,534.50 L349.36,535.20 L349.73,535.90 L350.21,536.60 L350.73,537.30 L351.20,538.00 L351.54,538.70 L351.72,539.40 L351.69,540.10" fill="none" stroke="#ef86ba" stroke-width="0.8"/>
<path d="M355.36,514.90 L355.87,515.60 L356.30,516.30 L356.58,517.00 L356.66,517.70 L356.55,518.40 L356.24,519.10 L355.80,519.80 L355.29,520.50 L354.79,521.20 L354.38,521.90 L354.13,522.60 L354.07,523.30 L354.21,524.00 L354.54,524.70 L355.00,525.40 L355.51,526.10 L356.00,526.80 L356.39,527.50 L356.62,528.20 L356.65,528.90 L356.48,529.60 L356.13,530.30 L355.66,531.00 L355.14,531.70 L354.66,532.40 L354.29,533.10 L354.09,533.80 L354.09,534.50 L354.29,535.20 L354.66,535.90 L355.14,536.60 L355.66,537.30 L356.13,538.00 L356.48,538.70 L356.65,539.40 L356.62,540.10" fill="none" stroke="#ef86ba" stroke-width="0.8"/>
<path d="M359.56,514.90 L360.07,515.60 L360.50,516.30 L360.78,517.00 L360.86,517.70 L360.75,518.40 L360.44,519.10 L360.00,519.80 L359.49,520.50 L358.99,521.20 L358.58,521.90 L358.33,522.60 L358.27,523.30 L358.41,524.00 L358.74,524.70 L359.20,525.40 L359.71,526.10 L360.20,526.80 L360.59,527.50 L360.82,528.20 L360.85,528.90 L360.68,529.60 L360.33,530.30 L359.86,531.00 L359.34,531.70 L358.86,532.40 L358.49,533.10 L358.29,533.80 L358.29,534.50 L358.49,535.20 L358.86,535.90 L359.34,536.60 L359.86,537.30 L360.33,538.00 L360.68,538.70 L360.85,539.40 L360.82,540.10" fill="none" stroke="#ef86ba" stroke-width="0.8"/>
<path d="M364.50,514.90 L365.00,515.60 L365.43,516.30 L365.71,517.00 L365.80,517.70 L365.68,518.40 L365.38,519.10 L364.93,519.80 L364.42,520.50 L363.92,521.20 L363.51,521.90 L363.26,522.60 L363.20,523.30 L363.35,524.00 L363.67,524.70 L364.13,525.40 L364.65,526.10 L365.14,526.80 L365.53,527.50 L365.75,528.20 L365.78,528.90 L365.61,529.60 L365.26,530.30 L364.79,531.00 L364.28,531.70 L363.79,532.40 L363.42,533.10 L363.22,533.80 L363.22,534.50 L363.42,535.20 L363.79,535.90 L364.28,536.60 L364.79,537.30 L365.26,538.00 L365.61,538.70 L365.78,539.40 L365.75,540.10" fill="none" stroke="#ef86ba" stroke-width="0.8"/>
<path d="M368.70,514.90 L369.20,515.60 L369.63,516.30 L369.91,517.00 L370.00,517.70 L369.88,518.40 L369.58,519.10 L369.13,519.80 L368.62,520.50 L368.12,521.20 L367.71,521.90 L367.46,522.60 L367.40,523.30 L367.55,524.00 L367.87,524.70 L368.33,525.40 L368.85,526.10 L369.34,526.80 L369.73,527.50 L369.95,528.20 L369.98,528.90 L369.81,529.60 L369.46,530.30 L368.99,531.00 L368.48,531.70 L367.99,532.40 L367.62,533.10 L367.42,533.80 L367.42,534.50 L367.62,535.20 L367.99,535.90 L368.48,536.60 L368.99,537.30 L369.46,538.00 L369.81,538.70 L369.98,539.40 L369.95,540.10" fill="none" stroke="#ef86ba" stroke-width="0.8"/>
<path d="M373.63,514.90 L374.14,515.60 L374.56,516.30 L374.84,517.00 L374.93,517.70 L374.81,518.40 L374.51,519.10 L374.07,519.80 L373.56,520.50 L373.06,521.20 L372.65,521.90 L372.39,522.60 L372.33,523.30 L372.48,524.00 L372.81,524.70 L373.26,525.40 L373.78,526.10 L374.27,526.80 L374.66,527.50 L374.89,528.20 L374.92,528.90 L374.74,529.60 L374.39,530.30 L373.92,531.00 L373.41,531.70 L372.93,532.40 L372.56,533.10 L372.36,533.80 L372.36,534.50 L372.56,535.20 L372.93,535.90 L373.41,536.60 L373.92,537.30 L374.39,538.00 L374.74,538.70 L374.92,539.40 L374.89,540.10" fill="none" stroke="#ef86ba" stroke-width="0.8"/>
<path d="M377.83,514.90 L378.34,515.60 L378.76,516.30 L379.04,517.00 L379.13,517.70 L379.01,518.40 L378.71,519.10 L378.27,519.80 L377.76,520.50 L377.26,521.20 L376.85,521.90 L376.59,522.60 L376.53,523.30 L376.68,524.00 L377.01,524.70 L377.46,525.40 L377.98,526.10 L378.47,526.80 L378.86,527.50 L379.09,528.20 L379.12,528.90 L378.94,529.60 L378.59,530.30 L378.12,531.00 L377.61,531.70 L377.13,532.40 L376.76,533.10 L376.56,533.80 L376.56,534.50 L376.76,535.20 L377.13,535.90 L377.61,536.60 L378.12,537.30 L378.59,538.00 L378.94,538.70 L379.12,539.40 L379.09,540.10" fill="none" stroke="#ef86ba" stroke-width="0.8"/>
<path d="M382.76,514.90 L383.27,515.60 L383.70,516.30 L383.97,517.00 L384.06,517.70 L383.95,518.40 L383.64,519.10 L383.20,519.80 L382.69,520.50 L382.19,521.20 L381.78,521.90 L381.53,522.60 L381.47,523.30 L381.61,524.00 L381.94,524.70 L382.40,525.40 L382.91,526.10 L383.40,526.80 L383.79,527.50 L384.02,528.20 L384.05,528.90 L383.88,529.60 L383.53,530.30 L383.06,531.00 L382.54,531.70 L382.06,532.40 L381.69,533.10 L381.49,533.80 L381.49,534.50 L381.69,535.20 L382.06,535.90 L382.54,536.60 L383.06,537.30 L383.53,538.00 L383.88,538.70 L384.05,539.40 L384.02,540.10" fill="none" stroke="#ef86ba" stroke-width="0.8"/>
<path d="M386.96,514.90 L387.47,515.60 L387.90,516.30 L388.17,517.00 L388.26,517.70 L388.15,518.40 L387.84,519.10 L387.40,519.80 L386.89,520.50 L386.39,521.20 L385.98,521.90 L385.73,522.60 L385.67,523.30 L385.81,524.00 L386.14,524.70 L386.60,525.40 L387.11,526.10 L387.60,526.80 L387.99,527.50 L388.22,528.20 L388.25,528.90 L388.08,529.60 L387.73,530.30 L387.26,531.00 L386.74,531.70 L386.26,532.40 L385.89,533.10 L385.69,533.80 L385.69,534.50 L385.89,535.20 L386.26,535.90 L386.74,536.60 L387.26,537.30 L387.73,538.00 L388.08,538.70 L388.25,539.40 L388.22,540.10" fill="none" stroke="#ef86ba" stroke-width="0.8"/>
<path d="M391.90,514.90 L392.40,515.60 L392.83,516.30 L393.11,517.00 L393.20,517.70 L393.08,518.40 L392.78,519.10 L392.33,519.80 L391.82,520.50 L391.32,521.20 L390.91,521.90 L390.66,522.60 L390.60,523.30 L390.75,524.00 L391.07,524.70 L391.53,525.40 L392.04,526.10 L392.54,526.80 L392.93,527.50 L393.15,528.20 L393.18,528.90 L393.01,529.60 L392.66,530.30 L392.19,531.00 L391.67,531.70 L391.19,532.40 L390.82,533.10 L390.62,533.80 L390.62,534.50 L390.82,535.20 L391.19,535.90 L391.67,536.60 L392.19,537.30 L392.66,538.00 L393.01,538.70 L393.18,539.40 L393.15,540.10" fill="none" stroke="#ef86ba" stroke-width="0.8"/>
<path d="M396.10,514.90 L396.60,515.60 L397.03,516.30 L397.31,517.00 L397.40,517.70 L397.28,518.40 L396.98,519.10 L396.53,519.80 L396.02,520.50 L395.52,521.20 L395.11,521.90 L394.86,522.60 L394.80,523.30 L394.95,524.00 L395.27,524.70 L395.73,525.40 L396.24,526.10 L396.74,526.80 L397.13,527.50 L397.35,528.20 L397.38,528.90 L397.21,529.60 L396.86,530.30 L396.39,531.00 L395.87,531.70 L395.39,532.40 L395.02,533.10 L394.82,533.80 L394.82,534.50 L395.02,535.20 L395.39,535.90 L395.87,536.60 L396.39,537.30 L396.86,538.00 L397.21,538.70 L397.38,539.40 L397.35,540.10" fill="none" stroke="#ef86ba" stroke-width="0.8"/>
<circle cx="284.40" cy="510.90" r="4.45" fill="url(#hd)"/>
<circle cx="284.40" cy="544.50" r="4.45" fill="url(#hd)"/>
<circle cx="293.53" cy="510.90" r="4.45" fill="url(#hd)"/>
<circle cx="293.53" cy="544.50" r="4.45" fill="url(#hd)"/>
<circle cx="302.67" cy="510.90" r="4.45" fill="url(#hd)"/>
<circle cx="302.67" cy="544.50" r="4.45" fill="url(#hd)"/>
<circle cx="311.80" cy="510.90" r="4.45" fill="url(#hd)"/>
<circle cx="311.80" cy="544.50" r="4.45" fill="url(#hd)"/>
<circle cx="320.93" cy="510.90" r="4.45" fill="url(#hd)"/>
<circle cx="320.93" cy="544.50" r="4.45" fill="url(#hd)"/>
<circle cx="330.06" cy="510.90" r="4.45" fill="url(#hd)"/>
<circle cx="330.06" cy="544.50" r="4.45" fill="url(#hd)"/>
<circle cx="339.20" cy="510.90" r="4.45" fill="url(#hd)"/>
<circle cx="339.20" cy="544.50" r="4.45" fill="url(#hd)"/>
<circle cx="348.33" cy="510.90" r="4.45" fill="url(#hd)"/>
<circle cx="348.33" cy="544.50" r="4.45" fill="url(#hd)"/>
<circle cx="357.46" cy="510.90" r="4.45" fill="url(#hd)"/>
<circle cx="357.46" cy="544.50" r="4.45" fill="url(#hd)"/>
<circle cx="366.60" cy="510.90" r="4.45" fill="url(#hd)"/>
<circle cx="366.60" cy="544.50" r="4.45" fill="url(#hd)"/>
<circle cx="375.73" cy="510.90" r="4.45" fill="url(#hd)"/>
<circle cx="375.73" cy="544.50" r="4.45" fill="url(#hd)"/>
<circle cx="384.86" cy="510.90" r="4.45" fill="url(#hd)"/>
<circle cx="384.86" cy="544.50" r="4.45" fill="url(#hd)"/>
<circle cx="394.00" cy="510.90" r="4.45" fill="url(#hd)"/>
<circle cx="394.00" cy="544.50" r="4.45" fill="url(#hd)"/>
<path d="M317,500 C321,500 324,504 324.5,510 L324.5,543 C324,549 321,553 317.5,553.5 C314,553 311.5,549 311.5,543 L311.5,510 C311.5,504 313.5,500 317,500 Z" fill="#efefef" fill-opacity="0.9" stroke="#a9a9a9" stroke-width="0.6" stroke-dasharray="1.3,1.1"/>
<rect x="344.5" y="503.6" width="10" height="50.7" rx="5" fill="#efefef" fill-opacity="0.9" stroke="#a9a9a9" stroke-width="0.6" stroke-dasharray="1.3,1.1"/>
<rect x="354.3" y="503.6" width="12.6" height="50.7" rx="6" fill="#efefef" fill-opacity="0.9" stroke="#a9a9a9" stroke-width="0.6" stroke-dasharray="1.3,1.1"/>
<circle cx="375.7" cy="488.3" r="10.3" fill="#efefef" fill-opacity="0.9" stroke="#a9a9a9" stroke-width="0.6" stroke-dasharray="1.3,1.1"/>
<circle cx="356.5" cy="497.6" r="6.6" fill="#efefef" fill-opacity="0.9" stroke="#a9a9a9" stroke-width="0.6" stroke-dasharray="1.3,1.1"/>
<path d="M326.4,545.5 C326.5,552 331,555.2 335,555.2 C339,555.2 343,552 343,544.5" fill="none" stroke="#38aa58" stroke-width="1.5"/>
<rect x="331" y="521.3" width="8" height="11.6" fill="#a8d9b2"/>
<rect x="321.2" y="513.3" width="10.4" height="33.1" rx="5.2" fill="#8acb98" stroke="#38aa58" stroke-width="0.9"/>
<rect x="338.5" y="505.4" width="8.8" height="39.8" rx="4.4" fill="#8acb98" stroke="#38aa58" stroke-width="0.9"/>
<line x1="324.5" y1="508" x2="324.5" y2="513.5" stroke="#38aa58" stroke-width="0.9"/>
<ellipse cx="324.6" cy="504.8" rx="6.4" ry="3.9" fill="#8acb98" stroke="#38aa58" stroke-width="0.9"/>
<line x1="342.9" y1="501" x2="342.9" y2="505.5" stroke="#38aa58" stroke-width="0.9"/>
<ellipse cx="342.1" cy="494.4" rx="8.6" ry="7.4" fill="#8acb98" stroke="#38aa58" stroke-width="0.9"/>
<text x="342.1" y="497.3" font-size="7.6" fill="#333" text-anchor="middle" textLength="14" lengthAdjust="spacingAndGlyphs">UBX</text>
<text x="332.4" y="529.9" font-size="7.8" fill="#333" text-anchor="middle" textLength="17" lengthAdjust="spacingAndGlyphs">Ubx2</text>
<g transform="translate(348.0,473.8) rotate(-32)">
<rect x="-10.5" y="-12" width="21" height="27.5" rx="6.5" fill="#cbe8f1" stroke="#5cc5ca" stroke-width="0.75"/>
<rect x="-10.5" y="-3" width="7.5" height="18.5" rx="3.7" fill="#cbe8f1" stroke="#5cc5ca" stroke-width="0.75"/>
<rect x="-3.5" y="-3" width="7" height="18.5" rx="3.5" fill="#cbe8f1" stroke="#5cc5ca" stroke-width="0.75"/>
<rect x="3" y="-3" width="7.5" height="18.5" rx="3.7" fill="#cbe8f1" stroke="#5cc5ca" stroke-width="0.75"/>
<line x1="-10.3" y1="6" x2="10.3" y2="6" stroke="#5cc5ca" stroke-width="0.6"/>
<circle cx="-5.6" cy="-8.6" r="4.4" fill="#cbe8f1" stroke="#5cc5ca" stroke-width="0.75"/>
<circle cx="0" cy="-11.2" r="4.4" fill="#cbe8f1" stroke="#5cc5ca" stroke-width="0.75"/>
<circle cx="5.6" cy="-8.6" r="4.4" fill="#cbe8f1" stroke="#5cc5ca" stroke-width="0.75"/>
<circle cx="-3.2" cy="-4.6" r="4.5" fill="#cbe8f1" stroke="#5cc5ca" stroke-width="0.75"/>
<circle cx="3.2" cy="-4.6" r="4.5" fill="#cbe8f1" stroke="#5cc5ca" stroke-width="0.75"/>
<text x="-1.5" y="6.3" font-size="8.2" fill="#444" text-anchor="middle" textLength="21.5" lengthAdjust="spacingAndGlyphs">Cdc48</text>
</g>
</svg>
</body></html>
